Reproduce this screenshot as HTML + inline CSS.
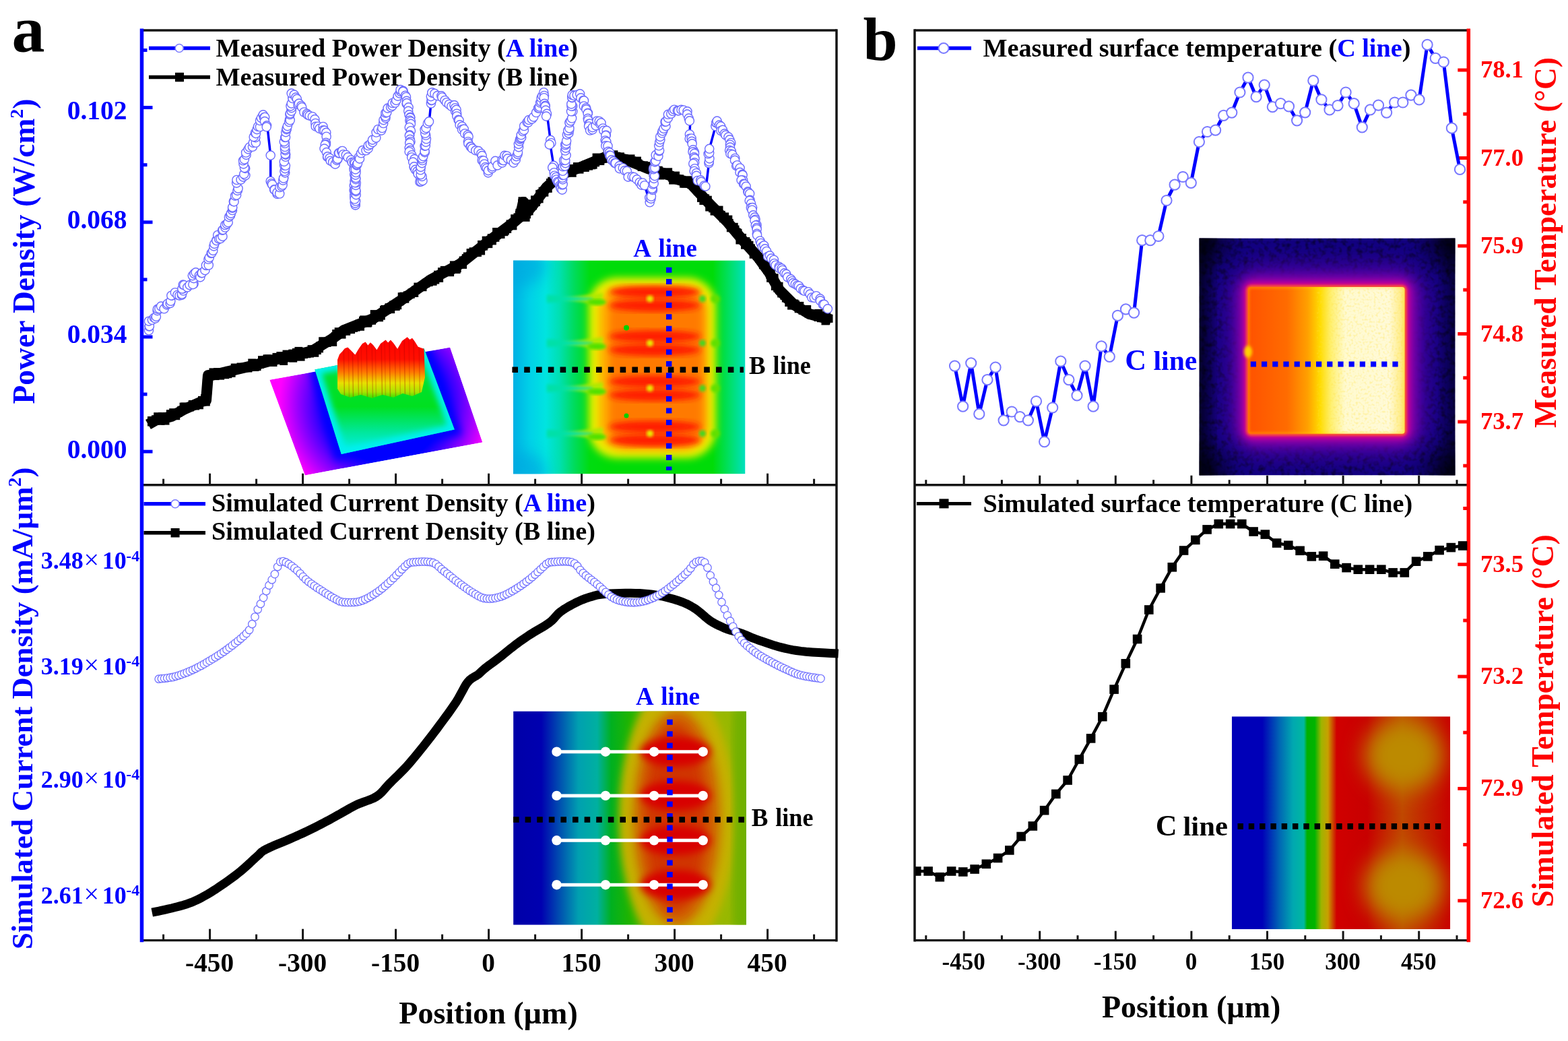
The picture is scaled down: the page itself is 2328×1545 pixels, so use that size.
<!DOCTYPE html>
<html><head><meta charset="utf-8"><title>Figure</title>
<style>html,body{margin:0;padding:0;background:#fff;}svg{display:block;}text{font-family:"Liberation Serif", "Times New Roman", serif;font-weight:bold;}</style>
</head><body>
<svg width="2328" height="1545" viewBox="0 0 2328 1545">
<defs>
<filter id="b2" x="-20%" y="-20%" width="140%" height="140%"><feGaussianBlur stdDeviation="2"/></filter>
<filter id="b4" x="-20%" y="-20%" width="140%" height="140%"><feGaussianBlur stdDeviation="4"/></filter>
<filter id="b6" x="-30%" y="-30%" width="160%" height="160%"><feGaussianBlur stdDeviation="6"/></filter>
<filter id="b8" x="-30%" y="-30%" width="160%" height="160%"><feGaussianBlur stdDeviation="8"/></filter>
<filter id="b10" x="-30%" y="-30%" width="160%" height="160%"><feGaussianBlur stdDeviation="10"/></filter>
<filter id="b16" x="-40%" y="-40%" width="180%" height="180%"><feGaussianBlur stdDeviation="16"/></filter>
<filter id="b25" x="-50%" y="-50%" width="200%" height="200%"><feGaussianBlur stdDeviation="25"/></filter>
<filter id="noise" x="0" y="0" width="100%" height="100%"><feTurbulence type="fractalNoise" baseFrequency="0.13" numOctaves="2" seed="3" result="t"/><feColorMatrix in="t" type="matrix" values="0 0 0 0 0  0 0 0 0 0  0 0 0 0 0  0 0 0 -2.2 1.25" result="a"/><feComposite in="SourceGraphic" in2="a" operator="in"/></filter>
<filter id="noise2" x="0" y="0" width="100%" height="100%"><feTurbulence type="fractalNoise" baseFrequency="0.3" numOctaves="1" seed="11" result="t"/><feColorMatrix in="t" type="matrix" values="0 0 0 0 0  0 0 0 0 0  0 0 0 0 0  0 0 0 -2.5 1.3" result="a"/><feComposite in="SourceGraphic" in2="a" operator="in"/></filter>
<clipPath id="c1"><rect x="762" y="386.4" width="344.5" height="317"/></clipPath>
<clipPath id="c3"><rect x="762.1" y="1055.5" width="345.9" height="317.2"/></clipPath>
<clipPath id="c4"><rect x="1780.5" y="353.5" width="380" height="352"/></clipPath>
<clipPath id="c5"><rect x="1828.8" y="1063.3" width="324.4" height="315.7"/></clipPath>
<clipPath id="c2"><polygon points="400.2,563.8 668.2,515.6 716.4,656.5 452.8,705.4"/></clipPath>
<clipPath id="c2b"><polygon points="467.4,548.4 629.5,517 674.8,637.5 506.8,674"/></clipPath>
<linearGradient id="g1" x1="0" x2="1" y1="0" y2="0">
 <stop offset="0" stop-color="#00b0e4"/><stop offset="0.07" stop-color="#00d0e8"/><stop offset="0.14" stop-color="#00e4e0"/>
 <stop offset="0.2" stop-color="#00e0b0"/><stop offset="0.26" stop-color="#00dc60"/><stop offset="0.33" stop-color="#00dc10"/><stop offset="0.4" stop-color="#00dc08"/><stop offset="0.86" stop-color="#00dc08"/>
 <stop offset="0.94" stop-color="#00e070"/><stop offset="1" stop-color="#00e0c0"/>
</linearGradient>
<linearGradient id="g3" x1="0" x2="1" y1="0" y2="0">
 <stop offset="0" stop-color="#0000a8"/><stop offset="0.12" stop-color="#0000b0"/><stop offset="0.2" stop-color="#0050b0"/>
 <stop offset="0.28" stop-color="#00a0b0"/><stop offset="0.36" stop-color="#00b0a0"/><stop offset="0.42" stop-color="#00b020"/>
 <stop offset="0.5" stop-color="#20b400"/><stop offset="0.62" stop-color="#70b400"/><stop offset="0.8" stop-color="#98b800"/><stop offset="0.92" stop-color="#98b800"/><stop offset="1" stop-color="#70b000"/>
</linearGradient>
<linearGradient id="g5" x1="0" x2="1" y1="0" y2="0">
 <stop offset="0" stop-color="#0000b8"/><stop offset="0.14" stop-color="#0000b8"/><stop offset="0.22" stop-color="#0068b4"/>
 <stop offset="0.28" stop-color="#00a8b0"/><stop offset="0.33" stop-color="#00b8a0"/><stop offset="0.345" stop-color="#00b000"/>
 <stop offset="0.38" stop-color="#00b400"/><stop offset="0.41" stop-color="#a0b400"/><stop offset="0.44" stop-color="#c8a000"/>
 <stop offset="0.48" stop-color="#d00000"/><stop offset="0.62" stop-color="#c80000"/><stop offset="0.78" stop-color="#c04800"/>
 <stop offset="0.9" stop-color="#c42000"/><stop offset="1" stop-color="#c80000"/>
</linearGradient>
<linearGradient id="g4" x1="0" x2="1" y1="0" y2="0">
 <stop offset="0" stop-color="#ff5200"/><stop offset="0.25" stop-color="#ff6c00"/><stop offset="0.38" stop-color="#ffa000"/>
 <stop offset="0.46" stop-color="#ffdc00"/><stop offset="0.53" stop-color="#fff070"/><stop offset="0.62" stop-color="#fffad0"/>
 <stop offset="0.9" stop-color="#fffad8"/><stop offset="1" stop-color="#ffe870"/>
</linearGradient>
<linearGradient id="g2peak" gradientUnits="userSpaceOnUse" x1="0" x2="0" y1="500" y2="595">
 <stop offset="0" stop-color="#ff0000"/><stop offset="0.35" stop-color="#ff1000"/><stop offset="0.55" stop-color="#ff7800"/>
 <stop offset="0.72" stop-color="#e8e000"/><stop offset="0.86" stop-color="#a8e400"/><stop offset="1" stop-color="#00e000"/>
</linearGradient>
<radialGradient id="g2base" gradientUnits="userSpaceOnUse" cx="572" cy="600" r="158">
 <stop offset="0.55" stop-color="#0000ff"/><stop offset="0.68" stop-color="#4800ff"/><stop offset="0.82" stop-color="#9800ff"/>
 <stop offset="0.94" stop-color="#e000ff"/><stop offset="1" stop-color="#ff00ff"/>
</radialGradient>
<linearGradient id="g2plat" x1="0" x2="0" y1="0" y2="1">
 <stop offset="0" stop-color="#00e040"/><stop offset="0.55" stop-color="#00e020"/><stop offset="0.8" stop-color="#00e8a0"/><stop offset="1" stop-color="#00f0f0"/>
</linearGradient>
</defs>
<rect width="2328" height="1545" fill="#fff"/>
<line x1="210.5" y1="45.0" x2="1242.0" y2="45.0" stroke="#141414" stroke-width="3.5" stroke-linecap="butt"/>
<line x1="1242.0" y1="43.3" x2="1242.0" y2="1397.4" stroke="#141414" stroke-width="3.5" stroke-linecap="butt"/>
<line x1="210.5" y1="719.7" x2="1242.0" y2="719.7" stroke="#141414" stroke-width="3.5" stroke-linecap="butt"/>
<line x1="210.5" y1="1395.7" x2="1242.0" y2="1395.7" stroke="#141414" stroke-width="3.2" stroke-linecap="butt"/>
<line x1="210.5" y1="42.5" x2="210.5" y2="1398.2" stroke="#0000ff" stroke-width="5.5" stroke-linecap="butt"/>
<line x1="1358.0" y1="45.0" x2="2180.3" y2="45.0" stroke="#141414" stroke-width="3.5" stroke-linecap="butt"/>
<line x1="1358.0" y1="43.3" x2="1358.0" y2="1397.4" stroke="#141414" stroke-width="3.5" stroke-linecap="butt"/>
<line x1="1358.0" y1="719.7" x2="2180.3" y2="719.7" stroke="#141414" stroke-width="3.5" stroke-linecap="butt"/>
<line x1="1358.0" y1="1395.7" x2="2180.3" y2="1395.7" stroke="#141414" stroke-width="3.2" stroke-linecap="butt"/>
<line x1="2180.3" y1="42.5" x2="2180.3" y2="1398.2" stroke="#ff0000" stroke-width="5.5" stroke-linecap="butt"/>
<line x1="242.6" y1="719.7" x2="242.6" y2="710.7" stroke="#141414" stroke-width="3" stroke-linecap="butt"/>
<line x1="311.6" y1="719.7" x2="311.6" y2="702.7" stroke="#141414" stroke-width="3" stroke-linecap="butt"/>
<line x1="380.6" y1="719.7" x2="380.6" y2="710.7" stroke="#141414" stroke-width="3" stroke-linecap="butt"/>
<line x1="449.6" y1="719.7" x2="449.6" y2="702.7" stroke="#141414" stroke-width="3" stroke-linecap="butt"/>
<line x1="518.6" y1="719.7" x2="518.6" y2="710.7" stroke="#141414" stroke-width="3" stroke-linecap="butt"/>
<line x1="587.6" y1="719.7" x2="587.6" y2="702.7" stroke="#141414" stroke-width="3" stroke-linecap="butt"/>
<line x1="656.6" y1="719.7" x2="656.6" y2="710.7" stroke="#141414" stroke-width="3" stroke-linecap="butt"/>
<line x1="725.6" y1="719.7" x2="725.6" y2="702.7" stroke="#141414" stroke-width="3" stroke-linecap="butt"/>
<line x1="794.6" y1="719.7" x2="794.6" y2="710.7" stroke="#141414" stroke-width="3" stroke-linecap="butt"/>
<line x1="863.6" y1="719.7" x2="863.6" y2="702.7" stroke="#141414" stroke-width="3" stroke-linecap="butt"/>
<line x1="932.6" y1="719.7" x2="932.6" y2="710.7" stroke="#141414" stroke-width="3" stroke-linecap="butt"/>
<line x1="1001.6" y1="719.7" x2="1001.6" y2="702.7" stroke="#141414" stroke-width="3" stroke-linecap="butt"/>
<line x1="1070.6" y1="719.7" x2="1070.6" y2="710.7" stroke="#141414" stroke-width="3" stroke-linecap="butt"/>
<line x1="1139.6" y1="719.7" x2="1139.6" y2="702.7" stroke="#141414" stroke-width="3" stroke-linecap="butt"/>
<line x1="1208.6" y1="719.7" x2="1208.6" y2="710.7" stroke="#141414" stroke-width="3" stroke-linecap="butt"/>
<line x1="242.6" y1="1395.7" x2="242.6" y2="1386.7" stroke="#141414" stroke-width="3" stroke-linecap="butt"/>
<line x1="311.6" y1="1395.7" x2="311.6" y2="1378.7" stroke="#141414" stroke-width="3" stroke-linecap="butt"/>
<line x1="380.6" y1="1395.7" x2="380.6" y2="1386.7" stroke="#141414" stroke-width="3" stroke-linecap="butt"/>
<line x1="449.6" y1="1395.7" x2="449.6" y2="1378.7" stroke="#141414" stroke-width="3" stroke-linecap="butt"/>
<line x1="518.6" y1="1395.7" x2="518.6" y2="1386.7" stroke="#141414" stroke-width="3" stroke-linecap="butt"/>
<line x1="587.6" y1="1395.7" x2="587.6" y2="1378.7" stroke="#141414" stroke-width="3" stroke-linecap="butt"/>
<line x1="656.6" y1="1395.7" x2="656.6" y2="1386.7" stroke="#141414" stroke-width="3" stroke-linecap="butt"/>
<line x1="725.6" y1="1395.7" x2="725.6" y2="1378.7" stroke="#141414" stroke-width="3" stroke-linecap="butt"/>
<line x1="794.6" y1="1395.7" x2="794.6" y2="1386.7" stroke="#141414" stroke-width="3" stroke-linecap="butt"/>
<line x1="863.6" y1="1395.7" x2="863.6" y2="1378.7" stroke="#141414" stroke-width="3" stroke-linecap="butt"/>
<line x1="932.6" y1="1395.7" x2="932.6" y2="1386.7" stroke="#141414" stroke-width="3" stroke-linecap="butt"/>
<line x1="1001.6" y1="1395.7" x2="1001.6" y2="1378.7" stroke="#141414" stroke-width="3" stroke-linecap="butt"/>
<line x1="1070.6" y1="1395.7" x2="1070.6" y2="1386.7" stroke="#141414" stroke-width="3" stroke-linecap="butt"/>
<line x1="1139.6" y1="1395.7" x2="1139.6" y2="1378.7" stroke="#141414" stroke-width="3" stroke-linecap="butt"/>
<line x1="1208.6" y1="1395.7" x2="1208.6" y2="1386.7" stroke="#141414" stroke-width="3" stroke-linecap="butt"/>
<line x1="1374.8" y1="719.7" x2="1374.8" y2="712.2" stroke="#141414" stroke-width="3" stroke-linecap="butt"/>
<line x1="1431.1" y1="719.7" x2="1431.1" y2="705.7" stroke="#141414" stroke-width="3" stroke-linecap="butt"/>
<line x1="1487.4" y1="719.7" x2="1487.4" y2="712.2" stroke="#141414" stroke-width="3" stroke-linecap="butt"/>
<line x1="1543.7" y1="719.7" x2="1543.7" y2="705.7" stroke="#141414" stroke-width="3" stroke-linecap="butt"/>
<line x1="1600.0" y1="719.7" x2="1600.0" y2="712.2" stroke="#141414" stroke-width="3" stroke-linecap="butt"/>
<line x1="1656.3" y1="719.7" x2="1656.3" y2="705.7" stroke="#141414" stroke-width="3" stroke-linecap="butt"/>
<line x1="1712.6" y1="719.7" x2="1712.6" y2="712.2" stroke="#141414" stroke-width="3" stroke-linecap="butt"/>
<line x1="1768.9" y1="719.7" x2="1768.9" y2="705.7" stroke="#141414" stroke-width="3" stroke-linecap="butt"/>
<line x1="1825.2" y1="719.7" x2="1825.2" y2="712.2" stroke="#141414" stroke-width="3" stroke-linecap="butt"/>
<line x1="1881.5" y1="719.7" x2="1881.5" y2="705.7" stroke="#141414" stroke-width="3" stroke-linecap="butt"/>
<line x1="1937.8" y1="719.7" x2="1937.8" y2="712.2" stroke="#141414" stroke-width="3" stroke-linecap="butt"/>
<line x1="1994.1" y1="719.7" x2="1994.1" y2="705.7" stroke="#141414" stroke-width="3" stroke-linecap="butt"/>
<line x1="2050.4" y1="719.7" x2="2050.4" y2="712.2" stroke="#141414" stroke-width="3" stroke-linecap="butt"/>
<line x1="2106.7" y1="719.7" x2="2106.7" y2="705.7" stroke="#141414" stroke-width="3" stroke-linecap="butt"/>
<line x1="2163.0" y1="719.7" x2="2163.0" y2="712.2" stroke="#141414" stroke-width="3" stroke-linecap="butt"/>
<line x1="1374.8" y1="1395.7" x2="1374.8" y2="1388.2" stroke="#141414" stroke-width="3" stroke-linecap="butt"/>
<line x1="1431.1" y1="1395.7" x2="1431.1" y2="1381.7" stroke="#141414" stroke-width="3" stroke-linecap="butt"/>
<line x1="1487.4" y1="1395.7" x2="1487.4" y2="1388.2" stroke="#141414" stroke-width="3" stroke-linecap="butt"/>
<line x1="1543.7" y1="1395.7" x2="1543.7" y2="1381.7" stroke="#141414" stroke-width="3" stroke-linecap="butt"/>
<line x1="1600.0" y1="1395.7" x2="1600.0" y2="1388.2" stroke="#141414" stroke-width="3" stroke-linecap="butt"/>
<line x1="1656.3" y1="1395.7" x2="1656.3" y2="1381.7" stroke="#141414" stroke-width="3" stroke-linecap="butt"/>
<line x1="1712.6" y1="1395.7" x2="1712.6" y2="1388.2" stroke="#141414" stroke-width="3" stroke-linecap="butt"/>
<line x1="1768.9" y1="1395.7" x2="1768.9" y2="1381.7" stroke="#141414" stroke-width="3" stroke-linecap="butt"/>
<line x1="1825.2" y1="1395.7" x2="1825.2" y2="1388.2" stroke="#141414" stroke-width="3" stroke-linecap="butt"/>
<line x1="1881.5" y1="1395.7" x2="1881.5" y2="1381.7" stroke="#141414" stroke-width="3" stroke-linecap="butt"/>
<line x1="1937.8" y1="1395.7" x2="1937.8" y2="1388.2" stroke="#141414" stroke-width="3" stroke-linecap="butt"/>
<line x1="1994.1" y1="1395.7" x2="1994.1" y2="1381.7" stroke="#141414" stroke-width="3" stroke-linecap="butt"/>
<line x1="2050.4" y1="1395.7" x2="2050.4" y2="1388.2" stroke="#141414" stroke-width="3" stroke-linecap="butt"/>
<line x1="2106.7" y1="1395.7" x2="2106.7" y2="1381.7" stroke="#141414" stroke-width="3" stroke-linecap="butt"/>
<line x1="2163.0" y1="1395.7" x2="2163.0" y2="1388.2" stroke="#141414" stroke-width="3" stroke-linecap="butt"/>
<text x="311.1" y="1442.0" font-size="39.3" fill="#000" text-anchor="middle" >-450</text>
<text x="1430.6" y="1438.5" font-size="35" fill="#000" text-anchor="middle" >-450</text>
<text x="449.1" y="1442.0" font-size="39.3" fill="#000" text-anchor="middle" >-300</text>
<text x="1543.2" y="1438.5" font-size="35" fill="#000" text-anchor="middle" >-300</text>
<text x="587.1" y="1442.0" font-size="39.3" fill="#000" text-anchor="middle" >-150</text>
<text x="1655.8" y="1438.5" font-size="35" fill="#000" text-anchor="middle" >-150</text>
<text x="725.1" y="1442.0" font-size="39.3" fill="#000" text-anchor="middle" >0</text>
<text x="1768.4" y="1438.5" font-size="35" fill="#000" text-anchor="middle" >0</text>
<text x="863.1" y="1442.0" font-size="39.3" fill="#000" text-anchor="middle" >150</text>
<text x="1881.0" y="1438.5" font-size="35" fill="#000" text-anchor="middle" >150</text>
<text x="1001.1" y="1442.0" font-size="39.3" fill="#000" text-anchor="middle" >300</text>
<text x="1993.6" y="1438.5" font-size="35" fill="#000" text-anchor="middle" >300</text>
<text x="1139.1" y="1442.0" font-size="39.3" fill="#000" text-anchor="middle" >450</text>
<text x="2106.2" y="1438.5" font-size="35" fill="#000" text-anchor="middle" >450</text>
<line x1="210.5" y1="159.6" x2="226.5" y2="159.6" stroke="#0000ff" stroke-width="5" stroke-linecap="butt"/>
<text x="188.5" y="177.3" font-size="39.5" fill="#0000ff" text-anchor="end" >0.102</text>
<line x1="210.5" y1="329.8" x2="226.5" y2="329.8" stroke="#0000ff" stroke-width="5" stroke-linecap="butt"/>
<text x="188.5" y="338.5" font-size="39.5" fill="#0000ff" text-anchor="end" >0.068</text>
<line x1="210.5" y1="500.0" x2="226.5" y2="500.0" stroke="#0000ff" stroke-width="5" stroke-linecap="butt"/>
<text x="188.5" y="509.2" font-size="39.5" fill="#0000ff" text-anchor="end" >0.034</text>
<line x1="210.5" y1="670.2" x2="226.5" y2="670.2" stroke="#0000ff" stroke-width="5" stroke-linecap="butt"/>
<text x="188.5" y="680.1" font-size="39.5" fill="#0000ff" text-anchor="end" >0.000</text>
<line x1="210.5" y1="74.5" x2="218.5" y2="74.5" stroke="#0000ff" stroke-width="5" stroke-linecap="butt"/>
<line x1="210.5" y1="244.7" x2="218.5" y2="244.7" stroke="#0000ff" stroke-width="5" stroke-linecap="butt"/>
<line x1="210.5" y1="414.9" x2="218.5" y2="414.9" stroke="#0000ff" stroke-width="5" stroke-linecap="butt"/>
<line x1="210.5" y1="585.1" x2="218.5" y2="585.1" stroke="#0000ff" stroke-width="5" stroke-linecap="butt"/>
<text x="60.8" y="844.2" font-size="36" fill="#0000ff" text-anchor="start" >3.48</text>
<text x="124.5" y="843.7" font-size="40" fill="#0000ff" style="font-weight:normal">×</text>
<text x="151.8" y="844.2" font-size="36" fill="#0000ff" text-anchor="start" >10</text>
<text x="187.2" y="832.7" font-size="24" fill="#0000ff" text-anchor="start" >-4</text>
<text x="60.8" y="1000.8" font-size="36" fill="#0000ff" text-anchor="start" >3.19</text>
<text x="124.5" y="1000.3" font-size="40" fill="#0000ff" style="font-weight:normal">×</text>
<text x="151.8" y="1000.8" font-size="36" fill="#0000ff" text-anchor="start" >10</text>
<text x="187.2" y="989.3" font-size="24" fill="#0000ff" text-anchor="start" >-4</text>
<text x="60.8" y="1168.6" font-size="36" fill="#0000ff" text-anchor="start" >2.90</text>
<text x="124.5" y="1168.1" font-size="40" fill="#0000ff" style="font-weight:normal">×</text>
<text x="151.8" y="1168.6" font-size="36" fill="#0000ff" text-anchor="start" >10</text>
<text x="187.2" y="1157.1" font-size="24" fill="#0000ff" text-anchor="start" >-4</text>
<text x="60.8" y="1340.6" font-size="36" fill="#0000ff" text-anchor="start" >2.61</text>
<text x="124.5" y="1340.1" font-size="40" fill="#0000ff" style="font-weight:normal">×</text>
<text x="151.8" y="1340.6" font-size="36" fill="#0000ff" text-anchor="start" >10</text>
<text x="187.2" y="1329.1" font-size="24" fill="#0000ff" text-anchor="start" >-4</text>
<line x1="2180.3" y1="104.0" x2="2164.3" y2="104.0" stroke="#ff0000" stroke-width="5" stroke-linecap="butt"/>
<text x="2198.0" y="115.2" font-size="36.5" fill="#ff0000" text-anchor="start" >78.1</text>
<line x1="2180.3" y1="234.5" x2="2164.3" y2="234.5" stroke="#ff0000" stroke-width="5" stroke-linecap="butt"/>
<text x="2198.0" y="245.7" font-size="36.5" fill="#ff0000" text-anchor="start" >77.0</text>
<line x1="2180.3" y1="365.0" x2="2164.3" y2="365.0" stroke="#ff0000" stroke-width="5" stroke-linecap="butt"/>
<text x="2198.0" y="376.2" font-size="36.5" fill="#ff0000" text-anchor="start" >75.9</text>
<line x1="2180.3" y1="495.5" x2="2164.3" y2="495.5" stroke="#ff0000" stroke-width="5" stroke-linecap="butt"/>
<text x="2198.0" y="506.7" font-size="36.5" fill="#ff0000" text-anchor="start" >74.8</text>
<line x1="2180.3" y1="626.0" x2="2164.3" y2="626.0" stroke="#ff0000" stroke-width="5" stroke-linecap="butt"/>
<text x="2198.0" y="637.2" font-size="36.5" fill="#ff0000" text-anchor="start" >73.7</text>
<line x1="2180.3" y1="169.2" x2="2172.3" y2="169.2" stroke="#ff0000" stroke-width="5" stroke-linecap="butt"/>
<line x1="2180.3" y1="299.8" x2="2172.3" y2="299.8" stroke="#ff0000" stroke-width="5" stroke-linecap="butt"/>
<line x1="2180.3" y1="430.2" x2="2172.3" y2="430.2" stroke="#ff0000" stroke-width="5" stroke-linecap="butt"/>
<line x1="2180.3" y1="560.8" x2="2172.3" y2="560.8" stroke="#ff0000" stroke-width="5" stroke-linecap="butt"/>
<line x1="2180.3" y1="691.2" x2="2172.3" y2="691.2" stroke="#ff0000" stroke-width="5" stroke-linecap="butt"/>
<line x1="2180.3" y1="837.7" x2="2164.3" y2="837.7" stroke="#ff0000" stroke-width="5" stroke-linecap="butt"/>
<text x="2198.0" y="848.5" font-size="36.5" fill="#ff0000" text-anchor="start" >73.5</text>
<line x1="2180.3" y1="1004.1" x2="2164.3" y2="1004.1" stroke="#ff0000" stroke-width="5" stroke-linecap="butt"/>
<text x="2198.0" y="1014.9" font-size="36.5" fill="#ff0000" text-anchor="start" >73.2</text>
<line x1="2180.3" y1="1170.4" x2="2164.3" y2="1170.4" stroke="#ff0000" stroke-width="5" stroke-linecap="butt"/>
<text x="2198.0" y="1181.2" font-size="36.5" fill="#ff0000" text-anchor="start" >72.9</text>
<line x1="2180.3" y1="1336.8" x2="2164.3" y2="1336.8" stroke="#ff0000" stroke-width="5" stroke-linecap="butt"/>
<text x="2198.0" y="1347.6" font-size="36.5" fill="#ff0000" text-anchor="start" >72.6</text>
<line x1="2180.3" y1="754.5" x2="2172.3" y2="754.5" stroke="#ff0000" stroke-width="5" stroke-linecap="butt"/>
<line x1="2180.3" y1="920.9" x2="2172.3" y2="920.9" stroke="#ff0000" stroke-width="5" stroke-linecap="butt"/>
<line x1="2180.3" y1="1087.2" x2="2172.3" y2="1087.2" stroke="#ff0000" stroke-width="5" stroke-linecap="butt"/>
<line x1="2180.3" y1="1253.6" x2="2172.3" y2="1253.6" stroke="#ff0000" stroke-width="5" stroke-linecap="butt"/>
<text x="17.5" y="76.3" font-size="98" fill="#000" text-anchor="start" >a</text>
<text x="1281.5" y="88.7" font-size="92" fill="#000" text-anchor="start" >b</text>
<text x="725.0" y="1519.0" font-size="46" fill="#000" text-anchor="middle" >Position (µm)</text>
<text x="1768.7" y="1510.0" font-size="46" fill="#000" text-anchor="middle" >Position (µm)</text>
<text transform="translate(51,373) rotate(-90)" font-size="45.5" fill="#0000ff" text-anchor="middle">Power Density (W/cm<tspan font-size="28" dy="-17">2</tspan><tspan dy="17">)</tspan></text>
<text transform="translate(48,1051.4) rotate(-90)" font-size="44.7" fill="#0000ff" text-anchor="middle">Simulated Current Density (mA/µm<tspan font-size="28" dy="-17">2</tspan><tspan dy="17">)</tspan></text>
<text transform="translate(2310,360) rotate(-90)" font-size="45.5" fill="#ff0000" text-anchor="middle">Measured Temperature (°C)</text>
<text transform="translate(2306,1070) rotate(-90)" font-size="45.5" fill="#ff0000" text-anchor="middle">Simulated Temperature (°C)</text>
<line x1="221.0" y1="71.5" x2="312.0" y2="71.5" stroke="#0000ff" stroke-width="5.5" stroke-linecap="butt"/>
<circle cx="266.2" cy="71.5" r="6" fill="#fff" stroke="#7b7bff" stroke-width="1.6"/>
<text x="320.5" y="84.4" font-size="38.2" fill="#000" text-anchor="start" >Measured Power Density (<tspan fill="#0000ff">A line</tspan>)</text>
<line x1="221.0" y1="114.4" x2="312.0" y2="114.4" stroke="#000" stroke-width="5.5" stroke-linecap="butt"/>
<rect x="260" y="107.8" width="13" height="13.5" fill="#000"/>
<text x="320.5" y="126.9" font-size="38.2" fill="#000" text-anchor="start" >Measured Power Density (B line)</text>
<line x1="213.5" y1="747.7" x2="305.0" y2="747.7" stroke="#0000ff" stroke-width="5.5" stroke-linecap="butt"/>
<circle cx="260.1" cy="747.7" r="6" fill="#fff" stroke="#7b7bff" stroke-width="1.6"/>
<text x="314.0" y="759.3" font-size="38.2" fill="#000" text-anchor="start" >Simulated Current Density (<tspan fill="#0000ff">A line</tspan>)</text>
<line x1="213.5" y1="790.7" x2="305.0" y2="790.7" stroke="#000" stroke-width="5.5" stroke-linecap="butt"/>
<rect x="253.6" y="784" width="13" height="13.5" fill="#000"/>
<text x="314.0" y="801.4" font-size="38.2" fill="#000" text-anchor="start" >Simulated Current Density (B line)</text>
<line x1="1362.0" y1="71.5" x2="1442.0" y2="71.5" stroke="#0000ff" stroke-width="5.5" stroke-linecap="butt"/>
<circle cx="1401" cy="71.5" r="7.5" fill="#fff" stroke="#7b7bff" stroke-width="2"/>
<text x="1459.5" y="84.4" font-size="38.2" fill="#000" text-anchor="start" >Measured surface temperature (<tspan fill="#0000ff">C line</tspan>)</text>
<line x1="1361.0" y1="747.4" x2="1442.0" y2="747.4" stroke="#000" stroke-width="5" stroke-linecap="butt"/>
<rect x="1394.5" y="740.4" width="14" height="14" fill="#000"/>
<text x="1459.5" y="760.3" font-size="38.2" fill="#000" text-anchor="start" >Simulated surface temperature (C line)</text>
<g clip-path="url(#c1)"><rect x="762" y="386.4" width="344.5" height="317" fill="url(#g1)"/><ellipse cx="770" cy="395" rx="40" ry="30" fill="#00a8e0" filter="url(#b10)" opacity="0.7"/><ellipse cx="770" cy="700" rx="40" ry="30" fill="#00a8e0" filter="url(#b10)" opacity="0.7"/><rect x="874" y="412" width="189" height="268" rx="42" fill="#e8f000" filter="url(#b6)"/><rect x="889" y="423" width="162" height="246" rx="36" fill="#ffb000" filter="url(#b6)"/><rect x="904" y="432" width="140" height="230" rx="30" fill="#ff7a00" filter="url(#b6)"/><ellipse cx="972" cy="433.4" rx="68" ry="9" fill="#ff1a00" filter="url(#b4)"/><ellipse cx="972" cy="453.4" rx="68" ry="9" fill="#ff1a00" filter="url(#b4)"/><ellipse cx="972" cy="499.3" rx="68" ry="9" fill="#ff1a00" filter="url(#b4)"/><ellipse cx="972" cy="519.3" rx="68" ry="9" fill="#ff1a00" filter="url(#b4)"/><ellipse cx="972" cy="566.3" rx="68" ry="9" fill="#ff1a00" filter="url(#b4)"/><ellipse cx="972" cy="586.3" rx="68" ry="9" fill="#ff1a00" filter="url(#b4)"/><ellipse cx="972" cy="633.4" rx="68" ry="9" fill="#ff1a00" filter="url(#b4)"/><ellipse cx="972" cy="653.4" rx="68" ry="9" fill="#ff1a00" filter="url(#b4)"/><line x1="872" y1="443.4" x2="1046" y2="443.4" stroke="#e8f000" stroke-width="5" filter="url(#b2)"/><polygon points="833,443.4 895,434.4 895,452.4" fill="#b0e800" filter="url(#b2)"/><polygon points="812,437.4 880,442.4 880,444.4 812,449.4" fill="#00e0a8" filter="url(#b2)"/><circle cx="1043" cy="443.4" r="5" fill="#40d820" filter="url(#b2)"/><ellipse cx="886" cy="448.4" rx="14" ry="4.5" fill="#50e000" filter="url(#b2)"/><ellipse cx="1062" cy="443.4" rx="7" ry="6" fill="#60e000" filter="url(#b2)"/><circle cx="965" cy="443.4" r="5" fill="#e8f000" filter="url(#b2)"/><line x1="872" y1="509.3" x2="1046" y2="509.3" stroke="#e8f000" stroke-width="5" filter="url(#b2)"/><polygon points="833,509.3 895,500.3 895,518.3" fill="#b0e800" filter="url(#b2)"/><polygon points="812,503.3 880,508.3 880,510.3 812,515.3" fill="#00e0a8" filter="url(#b2)"/><circle cx="1043" cy="509.3" r="5" fill="#40d820" filter="url(#b2)"/><ellipse cx="886" cy="514.3" rx="14" ry="4.5" fill="#50e000" filter="url(#b2)"/><ellipse cx="1062" cy="509.3" rx="7" ry="6" fill="#60e000" filter="url(#b2)"/><circle cx="965" cy="509.3" r="5" fill="#e8f000" filter="url(#b2)"/><line x1="872" y1="576.3" x2="1046" y2="576.3" stroke="#e8f000" stroke-width="5" filter="url(#b2)"/><polygon points="833,576.3 895,567.3 895,585.3" fill="#b0e800" filter="url(#b2)"/><polygon points="812,570.3 880,575.3 880,577.3 812,582.3" fill="#00e0a8" filter="url(#b2)"/><circle cx="1043" cy="576.3" r="5" fill="#40d820" filter="url(#b2)"/><ellipse cx="886" cy="581.3" rx="14" ry="4.5" fill="#50e000" filter="url(#b2)"/><ellipse cx="1062" cy="576.3" rx="7" ry="6" fill="#60e000" filter="url(#b2)"/><circle cx="965" cy="576.3" r="5" fill="#e8f000" filter="url(#b2)"/><line x1="872" y1="643.4" x2="1046" y2="643.4" stroke="#e8f000" stroke-width="5" filter="url(#b2)"/><polygon points="833,643.4 895,634.4 895,652.4" fill="#b0e800" filter="url(#b2)"/><polygon points="812,637.4 880,642.4 880,644.4 812,649.4" fill="#00e0a8" filter="url(#b2)"/><circle cx="1043" cy="643.4" r="5" fill="#40d820" filter="url(#b2)"/><ellipse cx="886" cy="648.4" rx="14" ry="4.5" fill="#50e000" filter="url(#b2)"/><ellipse cx="1062" cy="643.4" rx="7" ry="6" fill="#60e000" filter="url(#b2)"/><circle cx="965" cy="643.4" r="5" fill="#e8f000" filter="url(#b2)"/><circle cx="930" cy="486.5" r="4" fill="#00d000"/><circle cx="930" cy="617" r="3.5" fill="#00d000"/></g><line x1="993.2" y1="396.7" x2="993.2" y2="698" stroke="#0000ff" stroke-width="8.4" stroke-dasharray="8 9.399999999999999"/><line x1="760.4" y1="548.8" x2="1104" y2="548.8" stroke="#000" stroke-width="8.6" stroke-dasharray="8.6 9.200000000000001"/>
<g clip-path="url(#c2)"><polygon points="400.2,563.8 668.2,515.6 716.4,656.5 452.8,705.4" fill="url(#g2base)"/><polygon points="458,543 636,510 686,645 498,684" fill="#0000ff" filter="url(#b6)"/></g><polygon points="467.4,548.4 629.5,517 674.8,637.5 506.8,674" fill="url(#g2plat)"/><g clip-path="url(#c2b)"><polygon points="467.4,548.4 629.5,517 674.8,637.5 506.8,674" fill="none" stroke="#00f0f0" stroke-width="16" filter="url(#b4)"/></g><clipPath id="cpk"><path d="M501,577 L501,534 L504,526 L508.3,521.4 L512,517 L516.3,515.6 L520,519 L527.3,526.5 L533,517 L538,510 L542.6,507.5 L546.3,512.4 L549.9,508.3 L554,512 L559.4,519.2 L565,510 L572.6,504.6 L576.2,508.5 L579.9,504.6 L584,509 L590.1,517.7 L597,506 L604.7,500.2 L608.3,504 L612,501.7 L616,507 L620.8,514.8 L629.5,517.7 L631,560 L626,582 L612,588 L598,584 L584,590 L568,586 L552,591 L536,586 L520,590 L506,585 Z"/></clipPath><path d="M501,577 L501,534 L504,526 L508.3,521.4 L512,517 L516.3,515.6 L520,519 L527.3,526.5 L533,517 L538,510 L542.6,507.5 L546.3,512.4 L549.9,508.3 L554,512 L559.4,519.2 L565,510 L572.6,504.6 L576.2,508.5 L579.9,504.6 L584,509 L590.1,517.7 L597,506 L604.7,500.2 L608.3,504 L612,501.7 L616,507 L620.8,514.8 L629.5,517.7 L631,560 L626,582 L612,588 L598,584 L584,590 L568,586 L552,591 L536,586 L520,590 L506,585 Z" fill="url(#g2peak)"/><g clip-path="url(#cpk)"><line x1="510" y1="500" x2="511.5" y2="590" stroke="#a00000" stroke-width="1.5" opacity="0.3"/><line x1="517" y1="500" x2="518.5" y2="590" stroke="#a00000" stroke-width="1.5" opacity="0.2"/><line x1="523" y1="500" x2="524.5" y2="590" stroke="#a00000" stroke-width="1.5" opacity="0.3"/><line x1="531" y1="500" x2="532.5" y2="590" stroke="#a00000" stroke-width="1.5" opacity="0.25"/><line x1="536" y1="500" x2="537.5" y2="590" stroke="#a00000" stroke-width="1.5" opacity="0.2"/><line x1="544" y1="500" x2="545.5" y2="590" stroke="#a00000" stroke-width="1.5" opacity="0.3"/><line x1="552" y1="500" x2="553.5" y2="590" stroke="#a00000" stroke-width="1.5" opacity="0.25"/><line x1="557" y1="500" x2="558.5" y2="590" stroke="#a00000" stroke-width="1.5" opacity="0.2"/><line x1="566" y1="500" x2="567.5" y2="590" stroke="#a00000" stroke-width="1.5" opacity="0.3"/><line x1="571" y1="500" x2="572.5" y2="590" stroke="#a00000" stroke-width="1.5" opacity="0.2"/><line x1="578" y1="500" x2="579.5" y2="590" stroke="#a00000" stroke-width="1.5" opacity="0.3"/><line x1="586" y1="500" x2="587.5" y2="590" stroke="#a00000" stroke-width="1.5" opacity="0.25"/><line x1="593" y1="500" x2="594.5" y2="590" stroke="#a00000" stroke-width="1.5" opacity="0.2"/><line x1="600" y1="500" x2="601.5" y2="590" stroke="#a00000" stroke-width="1.5" opacity="0.3"/><line x1="607" y1="500" x2="608.5" y2="590" stroke="#a00000" stroke-width="1.5" opacity="0.2"/><line x1="614" y1="500" x2="615.5" y2="590" stroke="#a00000" stroke-width="1.5" opacity="0.3"/><line x1="622" y1="500" x2="623.5" y2="590" stroke="#a00000" stroke-width="1.5" opacity="0.25"/></g>
<g clip-path="url(#c3)"><rect x="762.1" y="1055.5" width="345.9" height="317.2" fill="url(#g3)"/><ellipse cx="1005" cy="1214" rx="86" ry="200" fill="#c4b200" filter="url(#b6)"/><ellipse cx="1005" cy="1214" rx="64" ry="160" fill="#d06400" filter="url(#b8)"/><ellipse cx="1003" cy="1214" rx="46" ry="140" fill="#d03400" filter="url(#b8)"/><ellipse cx="1003" cy="1115.7" rx="52" ry="22" fill="#d80000" filter="url(#b6)"/><ellipse cx="1003" cy="1180.9" rx="52" ry="22" fill="#d80000" filter="url(#b6)"/><ellipse cx="1003" cy="1247.3" rx="52" ry="22" fill="#d80000" filter="url(#b6)"/><ellipse cx="1003" cy="1313.2" rx="52" ry="22" fill="#d80000" filter="url(#b6)"/><rect x="1090" y="1055" width="20" height="320" fill="#70b000" filter="url(#b6)" opacity="0.8"/></g><line x1="826.5" y1="1115.7" x2="1043.7" y2="1115.7" stroke="#fff" stroke-width="5"/><circle cx="826.5" cy="1115.7" r="7.2" fill="#fff"/><circle cx="899" cy="1115.7" r="7.2" fill="#fff"/><circle cx="971.1" cy="1115.7" r="7.2" fill="#fff"/><circle cx="1043.7" cy="1115.7" r="7.2" fill="#fff"/><line x1="826.5" y1="1180.9" x2="1043.7" y2="1180.9" stroke="#fff" stroke-width="5"/><circle cx="826.5" cy="1180.9" r="7.2" fill="#fff"/><circle cx="899" cy="1180.9" r="7.2" fill="#fff"/><circle cx="971.1" cy="1180.9" r="7.2" fill="#fff"/><circle cx="1043.7" cy="1180.9" r="7.2" fill="#fff"/><line x1="826.5" y1="1247.3" x2="1043.7" y2="1247.3" stroke="#fff" stroke-width="5"/><circle cx="826.5" cy="1247.3" r="7.2" fill="#fff"/><circle cx="899" cy="1247.3" r="7.2" fill="#fff"/><circle cx="971.1" cy="1247.3" r="7.2" fill="#fff"/><circle cx="1043.7" cy="1247.3" r="7.2" fill="#fff"/><line x1="826.5" y1="1313.2" x2="1043.7" y2="1313.2" stroke="#fff" stroke-width="5"/><circle cx="826.5" cy="1313.2" r="7.2" fill="#fff"/><circle cx="899" cy="1313.2" r="7.2" fill="#fff"/><circle cx="971.1" cy="1313.2" r="7.2" fill="#fff"/><circle cx="1043.7" cy="1313.2" r="7.2" fill="#fff"/><line x1="994.5" y1="1067.8" x2="994.5" y2="1368" stroke="#0000ff" stroke-width="8.4" stroke-dasharray="8 9.399999999999999"/><line x1="762" y1="1216.5" x2="1106" y2="1216.5" stroke="#000" stroke-width="8.6" stroke-dasharray="8.6 9.000000000000002"/>
<g clip-path="url(#c4)"><rect x="1780.5" y="353.5" width="380" height="352" fill="#120080"/><rect x="1762" y="340" width="34" height="380" fill="#000010" filter="url(#b10)" opacity="0.75"/><rect x="2146" y="340" width="34" height="380" fill="#000010" filter="url(#b10)" opacity="0.55"/><circle cx="1782" cy="356" r="38" fill="#000008" filter="url(#b16)" opacity="0.85"/><circle cx="2158" cy="356" r="38" fill="#000008" filter="url(#b16)" opacity="0.85"/><circle cx="1782" cy="703" r="38" fill="#000008" filter="url(#b16)" opacity="0.85"/><circle cx="2158" cy="703" r="38" fill="#000008" filter="url(#b16)" opacity="0.85"/><rect x="1780.5" y="353.5" width="380" height="352" fill="#000" filter="url(#noise)" opacity="0.6"/><rect x="1826" y="396" width="290" height="278" rx="45" fill="#5000a8" filter="url(#b16)"/><rect x="1840" y="412" width="260" height="246" rx="22" fill="#9800a8" filter="url(#b8)"/><rect x="1848" y="420" width="243" height="230" rx="10" fill="#e00090" filter="url(#b4)"/><rect x="1851" y="424" width="237" height="222" rx="6" fill="#ff3030" filter="url(#b2)"/><rect x="1853" y="426.1" width="232.6" height="217.7" rx="4" fill="url(#g4)"/><rect x="1853" y="426.1" width="232.6" height="217.7" rx="4" fill="none" stroke="#ffd800" stroke-width="3" opacity="0.5" filter="url(#b2)"/><ellipse cx="1853" cy="522" rx="6" ry="9" fill="#ffd000" filter="url(#b2)"/><rect x="1955" y="428" width="128" height="214" fill="#ffe040" filter="url(#noise2)" opacity="0.45"/></g><line x1="1856.8" y1="540.5" x2="2083" y2="540.5" stroke="#0000ff" stroke-width="8.2" stroke-dasharray="8.2 8.0"/>
<g clip-path="url(#c5)"><rect x="1828.8" y="1063.3" width="324.4" height="315.7" fill="url(#g5)"/><ellipse cx="2084" cy="1121" rx="58" ry="52" fill="#bc8a00" filter="url(#b16)"/><ellipse cx="2084" cy="1315" rx="58" ry="52" fill="#bc8a00" filter="url(#b16)"/></g><line x1="1837.5" y1="1226.4" x2="2143.8" y2="1226.4" stroke="#000" stroke-width="8.6" stroke-dasharray="8.4 7.9"/>
<text x="940.2" y="381.2" font-size="37" fill="#0000ff" text-anchor="start" >A</text>
<text x="977.6" y="381.2" font-size="37" fill="#0000ff" text-anchor="start" textLength="57.3" lengthAdjust="spacingAndGlyphs">line</text>
<text x="1112.1" y="554.8" font-size="37" fill="#000" text-anchor="start" >B</text>
<text x="1147.6" y="554.8" font-size="37" fill="#000" text-anchor="start" textLength="56.2" lengthAdjust="spacingAndGlyphs">line</text>
<text x="943.9" y="1045.7" font-size="37" fill="#0000ff" text-anchor="start" >A</text>
<text x="981.3" y="1045.7" font-size="37" fill="#0000ff" text-anchor="start" textLength="57.8" lengthAdjust="spacingAndGlyphs">line</text>
<text x="1115.8" y="1226.4" font-size="37" fill="#000" text-anchor="start" >B</text>
<text x="1151.3" y="1226.4" font-size="37" fill="#000" text-anchor="start" textLength="56.2" lengthAdjust="spacingAndGlyphs">line</text>
<text x="1670.3" y="549.0" font-size="44" fill="#0000ff" text-anchor="start" >C</text>
<text x="1712.5" y="549.0" font-size="40" fill="#0000ff" text-anchor="start" textLength="64.8" lengthAdjust="spacingAndGlyphs">line</text>
<text x="1715.8" y="1240.4" font-size="44" fill="#000" text-anchor="start" >C</text>
<text x="1756.5" y="1240.4" font-size="40" fill="#000" text-anchor="start" textLength="66.4" lengthAdjust="spacingAndGlyphs">line</text>
<polyline points="220.0,630.0 232.3,623.0 254.7,618.0 272.5,608.0 299.3,596.0 306.0,594.0 309.0,557.0 314.2,557.0 344.0,550.0 373.8,543.0 403.6,535.0 433.3,528.0 463.1,521.0 492.9,503.0 510.7,490.0 553.7,473.0 596.6,445.0 639.6,415.0 682.6,392.0 725.5,358.0 757.7,334.0 772.0,322.0 777.0,300.0 780.0,318.0 790.0,306.0 811.4,278.0 833.0,259.0 865.1,247.0 901.6,232.0 929.6,237.0 961.8,250.0 994.0,260.0 1003.0,265.4 1025.0,272.0 1053.6,302.9 1080.0,329.3 1102.0,355.7 1124.0,379.9 1141.7,404.1 1157.0,430.5 1179.0,452.5 1201.0,465.7 1234.0,474.5" fill="none" stroke="#000" stroke-width="16" stroke-linejoin="round"/>
<g fill="#000"><rect x="219.0" y="620.5" width="12" height="12"/><rect x="219.0" y="618.0" width="12" height="12"/><rect x="220.3" y="619.2" width="12" height="12"/><rect x="221.9" y="618.8" width="12" height="12"/><rect x="224.9" y="616.3" width="12" height="12"/><rect x="228.2" y="612.2" width="12" height="12"/><rect x="232.5" y="618.8" width="12" height="12"/><rect x="234.8" y="612.1" width="12" height="12"/><rect x="239.5" y="618.6" width="12" height="12"/><rect x="242.5" y="612.4" width="12" height="12"/><rect x="246.9" y="608.2" width="12" height="12"/><rect x="249.8" y="609.9" width="12" height="12"/><rect x="251.2" y="606.2" width="12" height="12"/><rect x="255.2" y="611.2" width="12" height="12"/><rect x="258.4" y="606.8" width="12" height="12"/><rect x="263.4" y="602.7" width="12" height="12"/><rect x="266.6" y="597.6" width="12" height="12"/><rect x="268.5" y="597.6" width="12" height="12"/><rect x="273.7" y="598.3" width="12" height="12"/><rect x="276.0" y="598.4" width="12" height="12"/><rect x="279.8" y="594.0" width="12" height="12"/><rect x="284.1" y="596.5" width="12" height="12"/><rect x="285.8" y="593.7" width="12" height="12"/><rect x="290.0" y="595.3" width="12" height="12"/><rect x="294.0" y="587.9" width="12" height="12"/><rect x="298.1" y="585.2" width="12" height="12"/><rect x="299.8" y="590.6" width="12" height="12"/><rect x="299.2" y="584.8" width="12" height="12"/><rect x="299.1" y="583.5" width="12" height="12"/><rect x="301.5" y="579.5" width="12" height="12"/><rect x="302.1" y="573.8" width="12" height="12"/><rect x="301.8" y="573.5" width="12" height="12"/><rect x="301.7" y="569.1" width="12" height="12"/><rect x="302.8" y="570.9" width="12" height="12"/><rect x="301.9" y="565.0" width="12" height="12"/><rect x="300.9" y="562.3" width="12" height="12"/><rect x="302.9" y="562.1" width="12" height="12"/><rect x="303.7" y="551.9" width="12" height="12"/><rect x="302.7" y="552.7" width="12" height="12"/><rect x="306.8" y="550.6" width="12" height="12"/><rect x="310.5" y="546.4" width="12" height="12"/><rect x="313.5" y="552.1" width="12" height="12"/><rect x="317.0" y="546.1" width="12" height="12"/><rect x="321.1" y="551.6" width="12" height="12"/><rect x="323.5" y="546.6" width="12" height="12"/><rect x="328.2" y="550.2" width="12" height="12"/><rect x="332.3" y="549.2" width="12" height="12"/><rect x="334.0" y="543.9" width="12" height="12"/><rect x="337.6" y="547.8" width="12" height="12"/><rect x="342.7" y="539.7" width="12" height="12"/><rect x="343.7" y="539.8" width="12" height="12"/><rect x="347.1" y="541.5" width="12" height="12"/><rect x="351.5" y="538.5" width="12" height="12"/><rect x="353.1" y="539.3" width="12" height="12"/><rect x="357.5" y="540.0" width="12" height="12"/><rect x="362.5" y="540.5" width="12" height="12"/><rect x="364.5" y="539.0" width="12" height="12"/><rect x="368.3" y="532.5" width="12" height="12"/><rect x="372.3" y="538.9" width="12" height="12"/><rect x="375.5" y="538.2" width="12" height="12"/><rect x="377.4" y="533.3" width="12" height="12"/><rect x="379.9" y="534.8" width="12" height="12"/><rect x="383.0" y="528.2" width="12" height="12"/><rect x="386.8" y="528.3" width="12" height="12"/><rect x="390.5" y="526.3" width="12" height="12"/><rect x="392.8" y="526.4" width="12" height="12"/><rect x="396.4" y="527.6" width="12" height="12"/><rect x="399.5" y="532.0" width="12" height="12"/><rect x="404.5" y="523.9" width="12" height="12"/><rect x="406.8" y="525.1" width="12" height="12"/><rect x="410.4" y="522.1" width="12" height="12"/><rect x="415.1" y="530.0" width="12" height="12"/><rect x="417.3" y="524.2" width="12" height="12"/><rect x="419.5" y="519.6" width="12" height="12"/><rect x="423.5" y="520.4" width="12" height="12"/><rect x="428.3" y="518.6" width="12" height="12"/><rect x="429.2" y="525.7" width="12" height="12"/><rect x="434.0" y="516.9" width="12" height="12"/><rect x="437.4" y="514.9" width="12" height="12"/><rect x="440.6" y="523.7" width="12" height="12"/><rect x="444.9" y="520.1" width="12" height="12"/><rect x="446.5" y="516.0" width="12" height="12"/><rect x="449.5" y="519.3" width="12" height="12"/><rect x="453.9" y="518.6" width="12" height="12"/><rect x="456.6" y="512.2" width="12" height="12"/><rect x="461.3" y="517.8" width="12" height="12"/><rect x="464.8" y="514.1" width="12" height="12"/><rect x="468.0" y="511.4" width="12" height="12"/><rect x="469.5" y="507.2" width="12" height="12"/><rect x="473.2" y="500.3" width="12" height="12"/><rect x="475.6" y="500.8" width="12" height="12"/><rect x="479.6" y="502.9" width="12" height="12"/><rect x="485.0" y="498.5" width="12" height="12"/><rect x="488.2" y="501.9" width="12" height="12"/><rect x="491.8" y="493.0" width="12" height="12"/><rect x="493.2" y="489.1" width="12" height="12"/><rect x="496.7" y="486.2" width="12" height="12"/><rect x="501.5" y="490.6" width="12" height="12"/><rect x="505.7" y="483.8" width="12" height="12"/><rect x="508.2" y="485.8" width="12" height="12"/><rect x="509.6" y="483.2" width="12" height="12"/><rect x="515.1" y="483.2" width="12" height="12"/><rect x="517.7" y="478.9" width="12" height="12"/><rect x="519.1" y="480.8" width="12" height="12"/><rect x="522.6" y="479.7" width="12" height="12"/><rect x="527.6" y="474.5" width="12" height="12"/><rect x="529.0" y="478.8" width="12" height="12"/><rect x="533.0" y="469.8" width="12" height="12"/><rect x="534.3" y="468.4" width="12" height="12"/><rect x="539.7" y="473.7" width="12" height="12"/><rect x="540.5" y="472.7" width="12" height="12"/><rect x="546.1" y="469.8" width="12" height="12"/><rect x="547.3" y="467.5" width="12" height="12"/><rect x="549.7" y="460.1" width="12" height="12"/><rect x="555.2" y="464.5" width="12" height="12"/><rect x="557.0" y="465.3" width="12" height="12"/><rect x="559.8" y="462.7" width="12" height="12"/><rect x="564.0" y="454.1" width="12" height="12"/><rect x="565.3" y="452.9" width="12" height="12"/><rect x="568.4" y="453.9" width="12" height="12"/><rect x="571.5" y="450.2" width="12" height="12"/><rect x="574.2" y="453.1" width="12" height="12"/><rect x="577.9" y="446.6" width="12" height="12"/><rect x="581.7" y="449.0" width="12" height="12"/><rect x="584.2" y="447.2" width="12" height="12"/><rect x="587.5" y="441.3" width="12" height="12"/><rect x="590.7" y="434.2" width="12" height="12"/><rect x="593.5" y="433.7" width="12" height="12"/><rect x="595.3" y="437.7" width="12" height="12"/><rect x="598.8" y="432.3" width="12" height="12"/><rect x="603.6" y="431.0" width="12" height="12"/><rect x="605.4" y="428.5" width="12" height="12"/><rect x="609.2" y="429.0" width="12" height="12"/><rect x="610.9" y="424.6" width="12" height="12"/><rect x="614.4" y="419.6" width="12" height="12"/><rect x="619.1" y="419.8" width="12" height="12"/><rect x="621.5" y="420.2" width="12" height="12"/><rect x="625.6" y="414.9" width="12" height="12"/><rect x="627.8" y="413.3" width="12" height="12"/><rect x="630.6" y="413.1" width="12" height="12"/><rect x="633.5" y="409.3" width="12" height="12"/><rect x="636.6" y="411.8" width="12" height="12"/><rect x="640.3" y="409.5" width="12" height="12"/><rect x="644.1" y="401.7" width="12" height="12"/><rect x="646.1" y="406.9" width="12" height="12"/><rect x="650.0" y="397.2" width="12" height="12"/><rect x="650.9" y="398.6" width="12" height="12"/><rect x="653.8" y="394.9" width="12" height="12"/><rect x="656.9" y="397.6" width="12" height="12"/><rect x="662.1" y="398.2" width="12" height="12"/><rect x="663.3" y="394.7" width="12" height="12"/><rect x="667.9" y="387.4" width="12" height="12"/><rect x="671.6" y="394.0" width="12" height="12"/><rect x="672.7" y="392.2" width="12" height="12"/><rect x="676.3" y="385.9" width="12" height="12"/><rect x="681.1" y="386.9" width="12" height="12"/><rect x="681.7" y="380.5" width="12" height="12"/><rect x="685.8" y="377.1" width="12" height="12"/><rect x="687.9" y="374.5" width="12" height="12"/><rect x="692.6" y="369.1" width="12" height="12"/><rect x="695.1" y="370.8" width="12" height="12"/><rect x="696.6" y="367.3" width="12" height="12"/><rect x="701.5" y="366.7" width="12" height="12"/><rect x="702.9" y="369.0" width="12" height="12"/><rect x="708.1" y="366.4" width="12" height="12"/><rect x="709.1" y="356.9" width="12" height="12"/><rect x="712.0" y="359.6" width="12" height="12"/><rect x="715.7" y="350.7" width="12" height="12"/><rect x="719.3" y="356.1" width="12" height="12"/><rect x="723.7" y="347.2" width="12" height="12"/><rect x="724.9" y="351.4" width="12" height="12"/><rect x="729.4" y="346.8" width="12" height="12"/><rect x="731.1" y="338.0" width="12" height="12"/><rect x="736.2" y="339.3" width="12" height="12"/><rect x="737.5" y="342.0" width="12" height="12"/><rect x="742.4" y="338.2" width="12" height="12"/><rect x="744.0" y="336.4" width="12" height="12"/><rect x="747.2" y="334.0" width="12" height="12"/><rect x="751.6" y="326.4" width="12" height="12"/><rect x="755.4" y="329.3" width="12" height="12"/><rect x="758.2" y="318.3" width="12" height="12"/><rect x="762.5" y="316.4" width="12" height="12"/><rect x="764.8" y="312.6" width="12" height="12"/><rect x="765.4" y="309.9" width="12" height="12"/><rect x="766.9" y="307.8" width="12" height="12"/><rect x="768.9" y="304.5" width="12" height="12"/><rect x="768.9" y="300.2" width="12" height="12"/><rect x="769.1" y="295.5" width="12" height="12"/><rect x="769.5" y="292.3" width="12" height="12"/><rect x="771.7" y="294.5" width="12" height="12"/><rect x="770.6" y="296.7" width="12" height="12"/><rect x="773.3" y="296.1" width="12" height="12"/><rect x="773.5" y="302.3" width="12" height="12"/><rect x="773.0" y="309.3" width="12" height="12"/><rect x="773.2" y="309.1" width="12" height="12"/><rect x="774.6" y="316.8" width="12" height="12"/><rect x="776.0" y="312.3" width="12" height="12"/><rect x="779.6" y="307.4" width="12" height="12"/><rect x="781.2" y="301.5" width="12" height="12"/><rect x="782.7" y="296.3" width="12" height="12"/><rect x="785.1" y="299.3" width="12" height="12"/><rect x="788.0" y="290.4" width="12" height="12"/><rect x="789.9" y="294.1" width="12" height="12"/><rect x="794.6" y="289.3" width="12" height="12"/><rect x="795.2" y="281.9" width="12" height="12"/><rect x="797.6" y="280.9" width="12" height="12"/><rect x="799.6" y="277.7" width="12" height="12"/><rect x="802.3" y="279.7" width="12" height="12"/><rect x="806.8" y="272.5" width="12" height="12"/><rect x="807.7" y="273.9" width="12" height="12"/><rect x="811.0" y="265.1" width="12" height="12"/><rect x="813.2" y="262.7" width="12" height="12"/><rect x="817.7" y="261.2" width="12" height="12"/><rect x="819.9" y="258.5" width="12" height="12"/><rect x="822.4" y="253.4" width="12" height="12"/><rect x="825.8" y="252.0" width="12" height="12"/><rect x="828.8" y="247.0" width="12" height="12"/><rect x="832.8" y="247.9" width="12" height="12"/><rect x="836.9" y="249.7" width="12" height="12"/><rect x="840.6" y="249.8" width="12" height="12"/><rect x="843.7" y="250.8" width="12" height="12"/><rect x="845.9" y="244.1" width="12" height="12"/><rect x="850.9" y="241.1" width="12" height="12"/><rect x="853.4" y="244.8" width="12" height="12"/><rect x="854.5" y="245.6" width="12" height="12"/><rect x="860.3" y="242.3" width="12" height="12"/><rect x="862.8" y="242.9" width="12" height="12"/><rect x="864.1" y="238.7" width="12" height="12"/><rect x="868.2" y="240.6" width="12" height="12"/><rect x="872.2" y="239.3" width="12" height="12"/><rect x="874.6" y="238.7" width="12" height="12"/><rect x="877.9" y="235.4" width="12" height="12"/><rect x="879.6" y="227.6" width="12" height="12"/><rect x="882.3" y="229.6" width="12" height="12"/><rect x="885.3" y="233.1" width="12" height="12"/><rect x="889.7" y="229.8" width="12" height="12"/><rect x="892.9" y="229.1" width="12" height="12"/><rect x="895.6" y="221.0" width="12" height="12"/><rect x="899.6" y="229.0" width="12" height="12"/><rect x="901.8" y="227.5" width="12" height="12"/><rect x="905.4" y="223.3" width="12" height="12"/><rect x="908.8" y="225.7" width="12" height="12"/><rect x="909.9" y="226.4" width="12" height="12"/><rect x="915.0" y="226.4" width="12" height="12"/><rect x="918.1" y="234.6" width="12" height="12"/><rect x="920.5" y="229.3" width="12" height="12"/><rect x="923.5" y="232.8" width="12" height="12"/><rect x="927.6" y="233.5" width="12" height="12"/><rect x="930.5" y="229.4" width="12" height="12"/><rect x="932.2" y="232.4" width="12" height="12"/><rect x="937.2" y="234.2" width="12" height="12"/><rect x="939.9" y="232.6" width="12" height="12"/><rect x="941.6" y="236.5" width="12" height="12"/><rect x="946.7" y="242.0" width="12" height="12"/><rect x="949.9" y="239.3" width="12" height="12"/><rect x="952.6" y="242.3" width="12" height="12"/><rect x="955.7" y="240.2" width="12" height="12"/><rect x="960.2" y="242.0" width="12" height="12"/><rect x="963.7" y="250.4" width="12" height="12"/><rect x="964.0" y="246.6" width="12" height="12"/><rect x="969.6" y="252.7" width="12" height="12"/><rect x="971.7" y="246.7" width="12" height="12"/><rect x="974.2" y="254.5" width="12" height="12"/><rect x="977.5" y="251.8" width="12" height="12"/><rect x="980.5" y="252.2" width="12" height="12"/><rect x="986.1" y="249.3" width="12" height="12"/><rect x="989.0" y="254.1" width="12" height="12"/><rect x="992.2" y="257.8" width="12" height="12"/><rect x="993.2" y="261.6" width="12" height="12"/><rect x="997.0" y="254.6" width="12" height="12"/><rect x="998.7" y="260.3" width="12" height="12"/><rect x="1003.1" y="259.3" width="12" height="12"/><rect x="1005.4" y="260.7" width="12" height="12"/><rect x="1009.0" y="266.6" width="12" height="12"/><rect x="1011.2" y="266.6" width="12" height="12"/><rect x="1016.9" y="261.3" width="12" height="12"/><rect x="1020.3" y="268.1" width="12" height="12"/><rect x="1023.1" y="267.0" width="12" height="12"/><rect x="1024.3" y="271.1" width="12" height="12"/><rect x="1029.1" y="276.2" width="12" height="12"/><rect x="1030.0" y="277.6" width="12" height="12"/><rect x="1032.6" y="276.9" width="12" height="12"/><rect x="1035.0" y="287.9" width="12" height="12"/><rect x="1038.4" y="292.0" width="12" height="12"/><rect x="1041.1" y="288.4" width="12" height="12"/><rect x="1044.8" y="290.7" width="12" height="12"/><rect x="1047.2" y="301.5" width="12" height="12"/><rect x="1052.1" y="303.3" width="12" height="12"/><rect x="1054.6" y="307.6" width="12" height="12"/><rect x="1058.8" y="307.3" width="12" height="12"/><rect x="1061.5" y="305.6" width="12" height="12"/><rect x="1064.8" y="312.9" width="12" height="12"/><rect x="1068.2" y="318.1" width="12" height="12"/><rect x="1070.1" y="315.5" width="12" height="12"/><rect x="1075.3" y="319.6" width="12" height="12"/><rect x="1076.7" y="325.0" width="12" height="12"/><rect x="1078.9" y="332.3" width="12" height="12"/><rect x="1083.7" y="330.8" width="12" height="12"/><rect x="1085.5" y="334.5" width="12" height="12"/><rect x="1087.9" y="338.7" width="12" height="12"/><rect x="1089.5" y="339.7" width="12" height="12"/><rect x="1092.4" y="350.5" width="12" height="12"/><rect x="1096.0" y="346.9" width="12" height="12"/><rect x="1100.0" y="357.7" width="12" height="12"/><rect x="1101.3" y="352.1" width="12" height="12"/><rect x="1103.3" y="354.7" width="12" height="12"/><rect x="1106.5" y="357.7" width="12" height="12"/><rect x="1109.0" y="362.4" width="12" height="12"/><rect x="1112.7" y="371.7" width="12" height="12"/><rect x="1116.0" y="370.0" width="12" height="12"/><rect x="1117.7" y="374.1" width="12" height="12"/><rect x="1119.8" y="375.3" width="12" height="12"/><rect x="1121.1" y="377.7" width="12" height="12"/><rect x="1126.0" y="379.2" width="12" height="12"/><rect x="1126.9" y="387.3" width="12" height="12"/><rect x="1130.2" y="386.2" width="12" height="12"/><rect x="1130.6" y="389.5" width="12" height="12"/><rect x="1133.2" y="394.5" width="12" height="12"/><rect x="1137.1" y="401.6" width="12" height="12"/><rect x="1138.7" y="396.6" width="12" height="12"/><rect x="1138.1" y="406.8" width="12" height="12"/><rect x="1142.6" y="407.7" width="12" height="12"/><rect x="1143.6" y="406.3" width="12" height="12"/><rect x="1144.9" y="418.9" width="12" height="12"/><rect x="1148.2" y="421.5" width="12" height="12"/><rect x="1150.5" y="418.7" width="12" height="12"/><rect x="1149.8" y="421.0" width="12" height="12"/><rect x="1154.2" y="429.5" width="12" height="12"/><rect x="1158.6" y="433.0" width="12" height="12"/><rect x="1160.9" y="436.6" width="12" height="12"/><rect x="1163.4" y="437.6" width="12" height="12"/><rect x="1165.3" y="443.0" width="12" height="12"/><rect x="1169.1" y="447.6" width="12" height="12"/><rect x="1173.4" y="444.5" width="12" height="12"/><rect x="1175.0" y="445.9" width="12" height="12"/><rect x="1179.7" y="452.3" width="12" height="12"/><rect x="1181.3" y="447.9" width="12" height="12"/><rect x="1185.6" y="454.9" width="12" height="12"/><rect x="1188.4" y="453.2" width="12" height="12"/><rect x="1192.2" y="452.9" width="12" height="12"/><rect x="1194.4" y="459.3" width="12" height="12"/><rect x="1199.4" y="461.9" width="12" height="12"/><rect x="1202.2" y="461.1" width="12" height="12"/><rect x="1203.2" y="459.6" width="12" height="12"/><rect x="1208.4" y="464.9" width="12" height="12"/><rect x="1209.4" y="458.9" width="12" height="12"/><rect x="1213.0" y="466.2" width="12" height="12"/><rect x="1215.8" y="462.9" width="12" height="12"/><rect x="1219.5" y="470.4" width="12" height="12"/><rect x="1221.2" y="462.2" width="12" height="12"/><rect x="1224.5" y="466.9" width="12" height="12"/></g>
<polyline points="221.0,490.3 221.0,478.6 231.4,470.9 235.9,455.3 248.8,455.3 255.3,435.9 270.8,441.1 270.8,423.0 286.4,424.3 287.7,403.6 298.0,410.0 308.4,390.6 313.6,373.8 324.0,351.8 326.5,354.4 339.4,324.6 345.9,310.4 346.6,300.1 352.6,280.9 352.6,269.0 363.3,260.6 362.1,240.2 368.1,223.4 380.1,211.5 377.7,201.9 384.9,185.1 390.9,168.3 396.9,187.5 401.7,230.6 401.7,269.0 412.4,288.1 418.4,273.7 423.2,254.6 423.2,201.9 429.2,183.9 434.0,139.6 440.0,149.2 449.6,161.1 466.3,176.7 473.5,192.3 478.2,187.5 483.6,199.7 483.6,213.3 482.9,222.8 489.0,237.8 498.5,243.2 506.0,222.8 516.2,233.7 527.1,240.5 527.1,305.8 528.0,250.0 536.6,229.6 546.1,218.8 554.3,205.2 565.2,191.6 570.6,180.7 576.0,161.7 586.9,150.8 597.8,131.8 603.9,144.0 604.6,154.9 608.7,168.5 608.7,205.2 608.7,225.6 614.1,237.8 614.1,246.0 626.3,270.4 625.0,246.0 630.4,222.8 631.8,205.2 631.8,188.8 637.2,180.7 639.9,153.5 641.3,134.5 646.7,138.5 657.6,144.0 665.8,154.9 675.3,154.9 680.7,176.6 684.8,187.5 695.7,202.4 695.7,212.0 701.1,222.8 709.3,225.6 714.7,229.6 723.5,254.1 735.0,241.9 745.1,243.2 751.3,229.6 762.1,239.1 767.6,231.0 773.0,205.2 778.5,187.5 789.3,173.9 796.1,167.1 801.6,156.2 806.3,138.5 808.4,150.8 812.4,171.2 817.2,207.9 817.2,216.0 822.0,245.9 821.3,255.5 833.5,282.6 839.0,235.1 839.6,221.5 844.4,195.6 845.1,180.7 849.8,172.5 849.1,156.2 849.8,139.9 860.7,139.9 866.8,150.8 870.9,161.7 876.3,192.9 888.6,178.0 899.4,195.6 899.4,210.6 905.0,230.0 915.0,245.0 923.9,251.4 937.5,262.3 948.4,269.0 957.9,277.2 964.7,300.3 970.1,273.1 971.5,239.1 978.3,225.6 981.0,205.2 985.1,191.6 992.0,170.8 1008.5,162.0 1019.5,166.4 1025.0,176.3 1023.9,199.4 1029.4,219.2 1030.5,250.0 1033.8,263.2 1048.1,278.6 1052.5,242.3 1052.5,223.6 1062.4,187.3 1062.4,179.6 1073.4,195.0 1084.4,206.0 1084.4,228.0 1089.9,236.8 1102.0,258.8 1102.0,269.8 1112.0,285.2 1113.0,298.4 1121.8,327.1 1124.0,346.9 1128.5,360.1 1140.0,378.0 1152.7,393.1 1168.0,408.5 1183.5,423.9 1198.9,434.9 1216.5,443.7 1227.5,456.9" fill="none" stroke="#0000ff" stroke-width="3.5" stroke-linejoin="round"/>
<g fill="#fff" stroke="#6c6cff" stroke-width="1.4"><circle cx="221.0" cy="490.3" r="6.6"/><circle cx="221.5" cy="484.5" r="6.6"/><circle cx="221.9" cy="484.0" r="6.6"/><circle cx="221.0" cy="476.7" r="6.6"/><circle cx="225.9" cy="474.8" r="6.6"/><circle cx="228.9" cy="471.7" r="6.6"/><circle cx="230.6" cy="472.6" r="6.6"/><circle cx="231.9" cy="469.9" r="6.6"/><circle cx="233.6" cy="461.1" r="6.6"/><circle cx="233.9" cy="458.7" r="6.6"/><circle cx="236.4" cy="458.2" r="6.6"/><circle cx="239.1" cy="454.6" r="6.6"/><circle cx="243.6" cy="458.3" r="6.6"/><circle cx="247.7" cy="452.4" r="6.6"/><circle cx="248.8" cy="450.7" r="6.6"/><circle cx="252.6" cy="450.0" r="6.6"/><circle cx="253.4" cy="446.8" r="6.6"/><circle cx="255.3" cy="438.7" r="6.6"/><circle cx="254.4" cy="438.7" r="6.6"/><circle cx="259.9" cy="434.2" r="6.6"/><circle cx="263.5" cy="437.7" r="6.6"/><circle cx="266.5" cy="438.7" r="6.6"/><circle cx="269.8" cy="437.9" r="6.6"/><circle cx="270.1" cy="436.5" r="6.6"/><circle cx="272.2" cy="431.5" r="6.6"/><circle cx="272.2" cy="428.4" r="6.6"/><circle cx="270.4" cy="428.7" r="6.6"/><circle cx="271.8" cy="422.6" r="6.6"/><circle cx="273.3" cy="423.2" r="6.6"/><circle cx="278.2" cy="426.3" r="6.6"/><circle cx="281.6" cy="423.1" r="6.6"/><circle cx="287.6" cy="421.3" r="6.6"/><circle cx="286.4" cy="422.2" r="6.6"/><circle cx="287.7" cy="413.1" r="6.6"/><circle cx="285.8" cy="409.1" r="6.6"/><circle cx="288.7" cy="406.2" r="6.6"/><circle cx="288.4" cy="406.2" r="6.6"/><circle cx="290.7" cy="404.3" r="6.6"/><circle cx="295.9" cy="408.6" r="6.6"/><circle cx="297.3" cy="411.4" r="6.6"/><circle cx="299.2" cy="405.3" r="6.6"/><circle cx="300.0" cy="405.2" r="6.6"/><circle cx="304.4" cy="401.2" r="6.6"/><circle cx="306.3" cy="394.0" r="6.6"/><circle cx="305.9" cy="393.7" r="6.6"/><circle cx="309.8" cy="393.5" r="6.6"/><circle cx="309.4" cy="384.8" r="6.6"/><circle cx="310.8" cy="382.2" r="6.6"/><circle cx="313.6" cy="376.0" r="6.6"/><circle cx="314.5" cy="375.3" r="6.6"/><circle cx="316.3" cy="371.9" r="6.6"/><circle cx="317.4" cy="365.4" r="6.6"/><circle cx="318.3" cy="361.9" r="6.6"/><circle cx="321.4" cy="356.4" r="6.6"/><circle cx="321.4" cy="357.1" r="6.6"/><circle cx="323.2" cy="349.0" r="6.6"/><circle cx="325.1" cy="354.7" r="6.6"/><circle cx="327.4" cy="354.2" r="6.6"/><circle cx="330.5" cy="350.9" r="6.6"/><circle cx="330.1" cy="341.8" r="6.6"/><circle cx="331.0" cy="341.1" r="6.6"/><circle cx="334.3" cy="337.5" r="6.6"/><circle cx="334.3" cy="334.0" r="6.6"/><circle cx="336.9" cy="332.3" r="6.6"/><circle cx="338.7" cy="330.1" r="6.6"/><circle cx="339.9" cy="322.2" r="6.6"/><circle cx="342.0" cy="319.7" r="6.6"/><circle cx="342.9" cy="316.7" r="6.6"/><circle cx="345.0" cy="312.0" r="6.6"/><circle cx="345.1" cy="308.8" r="6.6"/><circle cx="345.2" cy="307.7" r="6.6"/><circle cx="346.8" cy="299.0" r="6.6"/><circle cx="347.5" cy="299.4" r="6.6"/><circle cx="349.0" cy="290.7" r="6.6"/><circle cx="351.1" cy="289.6" r="6.6"/><circle cx="352.9" cy="282.2" r="6.6"/><circle cx="352.5" cy="282.9" r="6.6"/><circle cx="353.6" cy="279.6" r="6.6"/><circle cx="351.2" cy="271.6" r="6.6"/><circle cx="351.5" cy="267.0" r="6.6"/><circle cx="357.6" cy="266.7" r="6.6"/><circle cx="361.0" cy="262.6" r="6.6"/><circle cx="364.4" cy="260.3" r="6.6"/><circle cx="362.3" cy="258.3" r="6.6"/><circle cx="364.2" cy="249.9" r="6.6"/><circle cx="362.9" cy="249.1" r="6.6"/><circle cx="361.5" cy="243.4" r="6.6"/><circle cx="361.0" cy="238.3" r="6.6"/><circle cx="362.9" cy="236.6" r="6.6"/><circle cx="365.6" cy="229.9" r="6.6"/><circle cx="365.1" cy="226.5" r="6.6"/><circle cx="368.6" cy="221.4" r="6.6"/><circle cx="370.5" cy="218.5" r="6.6"/><circle cx="375.0" cy="217.8" r="6.6"/><circle cx="375.8" cy="211.9" r="6.6"/><circle cx="379.8" cy="211.8" r="6.6"/><circle cx="379.3" cy="204.1" r="6.6"/><circle cx="376.7" cy="203.2" r="6.6"/><circle cx="378.9" cy="197.2" r="6.6"/><circle cx="380.0" cy="198.1" r="6.6"/><circle cx="381.5" cy="192.2" r="6.6"/><circle cx="383.0" cy="187.9" r="6.6"/><circle cx="386.0" cy="188.3" r="6.6"/><circle cx="386.0" cy="179.0" r="6.6"/><circle cx="388.6" cy="174.8" r="6.6"/><circle cx="387.9" cy="175.1" r="6.6"/><circle cx="390.7" cy="170.4" r="6.6"/><circle cx="391.8" cy="174.6" r="6.6"/><circle cx="393.2" cy="173.8" r="6.6"/><circle cx="393.0" cy="180.1" r="6.6"/><circle cx="396.1" cy="186.3" r="6.6"/><circle cx="395.7" cy="188.3" r="6.6"/><circle cx="401.7" cy="230.6" r="6.6"/><circle cx="401.7" cy="269.0" r="6.6"/><circle cx="403.1" cy="272.2" r="6.6"/><circle cx="404.2" cy="274.0" r="6.6"/><circle cx="407.1" cy="281.3" r="6.6"/><circle cx="407.7" cy="281.7" r="6.6"/><circle cx="411.5" cy="287.9" r="6.6"/><circle cx="411.5" cy="285.7" r="6.6"/><circle cx="415.2" cy="287.5" r="6.6"/><circle cx="415.3" cy="278.0" r="6.6"/><circle cx="418.2" cy="276.6" r="6.6"/><circle cx="419.6" cy="274.5" r="6.6"/><circle cx="420.3" cy="267.7" r="6.6"/><circle cx="421.2" cy="264.3" r="6.6"/><circle cx="421.0" cy="264.5" r="6.6"/><circle cx="423.2" cy="256.4" r="6.6"/><circle cx="422.4" cy="254.0" r="6.6"/><circle cx="423.3" cy="250.1" r="6.6"/><circle cx="422.1" cy="245.5" r="6.6"/><circle cx="423.9" cy="245.8" r="6.6"/><circle cx="421.8" cy="239.9" r="6.6"/><circle cx="424.0" cy="232.8" r="6.6"/><circle cx="424.2" cy="229.6" r="6.6"/><circle cx="423.5" cy="228.6" r="6.6"/><circle cx="423.6" cy="223.2" r="6.6"/><circle cx="423.0" cy="221.3" r="6.6"/><circle cx="423.0" cy="218.0" r="6.6"/><circle cx="423.0" cy="212.8" r="6.6"/><circle cx="421.8" cy="210.2" r="6.6"/><circle cx="423.2" cy="204.0" r="6.6"/><circle cx="424.0" cy="203.7" r="6.6"/><circle cx="424.3" cy="196.2" r="6.6"/><circle cx="425.5" cy="192.2" r="6.6"/><circle cx="425.7" cy="190.7" r="6.6"/><circle cx="426.8" cy="187.1" r="6.6"/><circle cx="429.2" cy="181.0" r="6.6"/><circle cx="430.0" cy="177.5" r="6.6"/><circle cx="430.7" cy="178.3" r="6.6"/><circle cx="430.4" cy="170.0" r="6.6"/><circle cx="430.8" cy="168.4" r="6.6"/><circle cx="432.6" cy="163.1" r="6.6"/><circle cx="432.7" cy="164.9" r="6.6"/><circle cx="432.7" cy="160.1" r="6.6"/><circle cx="431.5" cy="157.4" r="6.6"/><circle cx="432.8" cy="153.6" r="6.6"/><circle cx="434.4" cy="144.8" r="6.6"/><circle cx="434.5" cy="146.0" r="6.6"/><circle cx="432.7" cy="138.6" r="6.6"/><circle cx="436.8" cy="140.6" r="6.6"/><circle cx="439.2" cy="144.6" r="6.6"/><circle cx="440.9" cy="146.9" r="6.6"/><circle cx="442.4" cy="154.9" r="6.6"/><circle cx="443.9" cy="153.6" r="6.6"/><circle cx="447.2" cy="157.0" r="6.6"/><circle cx="448.2" cy="159.1" r="6.6"/><circle cx="451.4" cy="166.5" r="6.6"/><circle cx="455.7" cy="168.8" r="6.6"/><circle cx="457.0" cy="170.7" r="6.6"/><circle cx="459.6" cy="171.7" r="6.6"/><circle cx="463.9" cy="173.2" r="6.6"/><circle cx="467.4" cy="177.1" r="6.6"/><circle cx="468.3" cy="183.0" r="6.6"/><circle cx="468.7" cy="187.7" r="6.6"/><circle cx="472.1" cy="187.7" r="6.6"/><circle cx="474.4" cy="190.8" r="6.6"/><circle cx="479.7" cy="188.0" r="6.6"/><circle cx="479.6" cy="193.3" r="6.6"/><circle cx="481.6" cy="193.6" r="6.6"/><circle cx="484.3" cy="196.8" r="6.6"/><circle cx="484.6" cy="202.7" r="6.6"/><circle cx="484.0" cy="211.9" r="6.6"/><circle cx="483.9" cy="214.3" r="6.6"/><circle cx="482.7" cy="214.9" r="6.6"/><circle cx="481.5" cy="220.6" r="6.6"/><circle cx="484.8" cy="226.1" r="6.6"/><circle cx="486.0" cy="232.8" r="6.6"/><circle cx="486.4" cy="232.3" r="6.6"/><circle cx="489.5" cy="234.7" r="6.6"/><circle cx="490.7" cy="238.7" r="6.6"/><circle cx="494.2" cy="240.5" r="6.6"/><circle cx="497.7" cy="243.7" r="6.6"/><circle cx="500.0" cy="237.9" r="6.6"/><circle cx="501.4" cy="236.2" r="6.6"/><circle cx="501.2" cy="235.8" r="6.6"/><circle cx="502.7" cy="227.4" r="6.6"/><circle cx="503.5" cy="227.1" r="6.6"/><circle cx="507.1" cy="224.6" r="6.6"/><circle cx="508.3" cy="224.0" r="6.6"/><circle cx="509.6" cy="229.2" r="6.6"/><circle cx="513.8" cy="230.0" r="6.6"/><circle cx="516.6" cy="233.3" r="6.6"/><circle cx="521.1" cy="237.5" r="6.6"/><circle cx="522.7" cy="240.8" r="6.6"/><circle cx="525.7" cy="240.7" r="6.6"/><circle cx="526.8" cy="242.4" r="6.6"/><circle cx="525.8" cy="249.5" r="6.6"/><circle cx="525.6" cy="251.7" r="6.6"/><circle cx="528.4" cy="252.7" r="6.6"/><circle cx="526.2" cy="259.3" r="6.6"/><circle cx="527.1" cy="263.2" r="6.6"/><circle cx="528.0" cy="263.8" r="6.6"/><circle cx="526.5" cy="268.2" r="6.6"/><circle cx="525.7" cy="275.6" r="6.6"/><circle cx="527.9" cy="278.2" r="6.6"/><circle cx="525.6" cy="282.6" r="6.6"/><circle cx="527.8" cy="283.8" r="6.6"/><circle cx="527.8" cy="287.4" r="6.6"/><circle cx="526.3" cy="288.8" r="6.6"/><circle cx="526.3" cy="292.0" r="6.6"/><circle cx="526.6" cy="300.1" r="6.6"/><circle cx="527.7" cy="304.4" r="6.6"/><circle cx="527.7" cy="304.3" r="6.6"/><circle cx="527.3" cy="301.7" r="6.6"/><circle cx="528.1" cy="298.5" r="6.6"/><circle cx="526.6" cy="295.5" r="6.6"/><circle cx="528.7" cy="289.1" r="6.6"/><circle cx="528.5" cy="284.1" r="6.6"/><circle cx="526.7" cy="281.8" r="6.6"/><circle cx="528.3" cy="282.6" r="6.6"/><circle cx="528.3" cy="274.9" r="6.6"/><circle cx="528.8" cy="271.2" r="6.6"/><circle cx="526.9" cy="271.2" r="6.6"/><circle cx="528.2" cy="266.1" r="6.6"/><circle cx="528.3" cy="264.2" r="6.6"/><circle cx="527.8" cy="259.6" r="6.6"/><circle cx="528.5" cy="256.0" r="6.6"/><circle cx="527.8" cy="251.4" r="6.6"/><circle cx="529.6" cy="245.4" r="6.6"/><circle cx="530.0" cy="244.0" r="6.6"/><circle cx="531.0" cy="242.4" r="6.6"/><circle cx="532.7" cy="233.4" r="6.6"/><circle cx="534.0" cy="235.7" r="6.6"/><circle cx="536.1" cy="227.3" r="6.6"/><circle cx="538.4" cy="223.1" r="6.6"/><circle cx="543.5" cy="223.3" r="6.6"/><circle cx="546.7" cy="220.3" r="6.6"/><circle cx="546.8" cy="216.0" r="6.6"/><circle cx="549.8" cy="214.0" r="6.6"/><circle cx="553.2" cy="211.1" r="6.6"/><circle cx="553.0" cy="207.6" r="6.6"/><circle cx="558.3" cy="204.6" r="6.6"/><circle cx="558.6" cy="196.5" r="6.6"/><circle cx="561.3" cy="192.0" r="6.6"/><circle cx="566.2" cy="193.6" r="6.6"/><circle cx="567.4" cy="190.0" r="6.6"/><circle cx="569.2" cy="183.0" r="6.6"/><circle cx="569.4" cy="178.1" r="6.6"/><circle cx="572.5" cy="175.0" r="6.6"/><circle cx="572.2" cy="172.6" r="6.6"/><circle cx="572.4" cy="167.7" r="6.6"/><circle cx="574.3" cy="166.9" r="6.6"/><circle cx="575.6" cy="160.6" r="6.6"/><circle cx="580.1" cy="159.0" r="6.6"/><circle cx="582.5" cy="157.0" r="6.6"/><circle cx="582.8" cy="153.0" r="6.6"/><circle cx="586.7" cy="152.5" r="6.6"/><circle cx="588.3" cy="148.9" r="6.6"/><circle cx="590.6" cy="142.7" r="6.6"/><circle cx="593.4" cy="138.7" r="6.6"/><circle cx="595.1" cy="136.0" r="6.6"/><circle cx="594.5" cy="133.1" r="6.6"/><circle cx="598.6" cy="134.9" r="6.6"/><circle cx="598.3" cy="135.8" r="6.6"/><circle cx="601.8" cy="141.8" r="6.6"/><circle cx="603.0" cy="144.0" r="6.6"/><circle cx="603.7" cy="149.8" r="6.6"/><circle cx="603.6" cy="154.1" r="6.6"/><circle cx="604.0" cy="153.1" r="6.6"/><circle cx="606.6" cy="159.4" r="6.6"/><circle cx="606.2" cy="164.8" r="6.6"/><circle cx="607.4" cy="170.3" r="6.6"/><circle cx="609.3" cy="174.0" r="6.6"/><circle cx="609.1" cy="174.9" r="6.6"/><circle cx="608.4" cy="178.8" r="6.6"/><circle cx="609.9" cy="180.5" r="6.6"/><circle cx="609.9" cy="183.8" r="6.6"/><circle cx="607.8" cy="189.0" r="6.6"/><circle cx="609.9" cy="194.2" r="6.6"/><circle cx="608.3" cy="200.3" r="6.6"/><circle cx="607.9" cy="201.3" r="6.6"/><circle cx="608.8" cy="206.8" r="6.6"/><circle cx="609.5" cy="210.2" r="6.6"/><circle cx="608.2" cy="212.3" r="6.6"/><circle cx="607.7" cy="219.6" r="6.6"/><circle cx="609.2" cy="223.1" r="6.6"/><circle cx="607.7" cy="225.2" r="6.6"/><circle cx="611.3" cy="230.2" r="6.6"/><circle cx="611.2" cy="233.5" r="6.6"/><circle cx="615.3" cy="236.1" r="6.6"/><circle cx="613.2" cy="240.6" r="6.6"/><circle cx="614.7" cy="248.2" r="6.6"/><circle cx="614.8" cy="247.3" r="6.6"/><circle cx="616.8" cy="251.9" r="6.6"/><circle cx="619.4" cy="254.3" r="6.6"/><circle cx="620.6" cy="258.0" r="6.6"/><circle cx="624.2" cy="264.9" r="6.6"/><circle cx="623.4" cy="269.9" r="6.6"/><circle cx="625.1" cy="269.7" r="6.6"/><circle cx="627.5" cy="268.2" r="6.6"/><circle cx="626.6" cy="261.9" r="6.6"/><circle cx="624.7" cy="259.1" r="6.6"/><circle cx="624.3" cy="252.3" r="6.6"/><circle cx="624.9" cy="247.1" r="6.6"/><circle cx="624.7" cy="247.9" r="6.6"/><circle cx="626.5" cy="242.1" r="6.6"/><circle cx="627.2" cy="238.0" r="6.6"/><circle cx="626.6" cy="235.1" r="6.6"/><circle cx="628.3" cy="232.1" r="6.6"/><circle cx="630.7" cy="226.2" r="6.6"/><circle cx="630.6" cy="224.4" r="6.6"/><circle cx="630.5" cy="216.7" r="6.6"/><circle cx="631.8" cy="216.4" r="6.6"/><circle cx="632.3" cy="210.9" r="6.6"/><circle cx="632.9" cy="206.3" r="6.6"/><circle cx="632.2" cy="200.8" r="6.6"/><circle cx="631.2" cy="197.8" r="6.6"/><circle cx="630.6" cy="192.4" r="6.6"/><circle cx="632.6" cy="190.2" r="6.6"/><circle cx="634.9" cy="183.2" r="6.6"/><circle cx="637.0" cy="180.4" r="6.6"/><circle cx="639.9" cy="153.5" r="6.6"/><circle cx="640.5" cy="149.1" r="6.6"/><circle cx="641.0" cy="148.7" r="6.6"/><circle cx="639.8" cy="143.1" r="6.6"/><circle cx="641.9" cy="137.6" r="6.6"/><circle cx="641.3" cy="137.5" r="6.6"/><circle cx="645.3" cy="138.8" r="6.6"/><circle cx="649.3" cy="142.1" r="6.6"/><circle cx="655.3" cy="142.3" r="6.6"/><circle cx="656.4" cy="144.5" r="6.6"/><circle cx="660.5" cy="149.0" r="6.6"/><circle cx="663.1" cy="152.2" r="6.6"/><circle cx="666.8" cy="155.0" r="6.6"/><circle cx="670.3" cy="157.8" r="6.6"/><circle cx="674.4" cy="156.1" r="6.6"/><circle cx="675.9" cy="160.2" r="6.6"/><circle cx="676.0" cy="165.2" r="6.6"/><circle cx="677.6" cy="162.9" r="6.6"/><circle cx="678.2" cy="168.7" r="6.6"/><circle cx="678.3" cy="172.5" r="6.6"/><circle cx="680.5" cy="177.9" r="6.6"/><circle cx="681.6" cy="178.7" r="6.6"/><circle cx="682.6" cy="185.4" r="6.6"/><circle cx="686.1" cy="187.7" r="6.6"/><circle cx="686.1" cy="192.4" r="6.6"/><circle cx="688.8" cy="191.6" r="6.6"/><circle cx="690.2" cy="198.2" r="6.6"/><circle cx="694.4" cy="200.3" r="6.6"/><circle cx="695.6" cy="202.8" r="6.6"/><circle cx="694.9" cy="210.2" r="6.6"/><circle cx="695.3" cy="212.9" r="6.6"/><circle cx="698.5" cy="217.6" r="6.6"/><circle cx="699.2" cy="217.9" r="6.6"/><circle cx="701.2" cy="220.4" r="6.6"/><circle cx="706.2" cy="223.3" r="6.6"/><circle cx="710.4" cy="224.1" r="6.6"/><circle cx="714.3" cy="228.0" r="6.6"/><circle cx="715.7" cy="231.1" r="6.6"/><circle cx="715.7" cy="238.0" r="6.6"/><circle cx="717.8" cy="238.5" r="6.6"/><circle cx="719.1" cy="243.5" r="6.6"/><circle cx="720.8" cy="248.0" r="6.6"/><circle cx="722.7" cy="249.7" r="6.6"/><circle cx="724.8" cy="256.4" r="6.6"/><circle cx="725.0" cy="253.1" r="6.6"/><circle cx="730.5" cy="249.8" r="6.6"/><circle cx="731.0" cy="247.1" r="6.6"/><circle cx="735.4" cy="238.8" r="6.6"/><circle cx="738.6" cy="245.4" r="6.6"/><circle cx="745.6" cy="241.6" r="6.6"/><circle cx="745.5" cy="237.5" r="6.6"/><circle cx="747.4" cy="238.2" r="6.6"/><circle cx="749.3" cy="230.8" r="6.6"/><circle cx="752.5" cy="231.5" r="6.6"/><circle cx="753.9" cy="235.3" r="6.6"/><circle cx="758.8" cy="237.7" r="6.6"/><circle cx="762.6" cy="241.6" r="6.6"/><circle cx="765.7" cy="237.2" r="6.6"/><circle cx="766.7" cy="232.2" r="6.6"/><circle cx="768.5" cy="228.9" r="6.6"/><circle cx="769.0" cy="226.1" r="6.6"/><circle cx="770.1" cy="218.4" r="6.6"/><circle cx="769.9" cy="213.9" r="6.6"/><circle cx="771.4" cy="209.7" r="6.6"/><circle cx="772.1" cy="206.6" r="6.6"/><circle cx="773.0" cy="205.2" r="6.6"/><circle cx="774.2" cy="204.0" r="6.6"/><circle cx="773.7" cy="200.3" r="6.6"/><circle cx="776.2" cy="195.0" r="6.6"/><circle cx="777.9" cy="193.2" r="6.6"/><circle cx="778.1" cy="187.0" r="6.6"/><circle cx="782.6" cy="181.4" r="6.6"/><circle cx="784.3" cy="181.6" r="6.6"/><circle cx="785.2" cy="178.0" r="6.6"/><circle cx="789.8" cy="176.7" r="6.6"/><circle cx="792.2" cy="173.6" r="6.6"/><circle cx="796.1" cy="167.0" r="6.6"/><circle cx="799.1" cy="160.5" r="6.6"/><circle cx="800.4" cy="160.6" r="6.6"/><circle cx="801.1" cy="158.5" r="6.6"/><circle cx="802.1" cy="152.5" r="6.6"/><circle cx="803.6" cy="150.9" r="6.6"/><circle cx="803.6" cy="145.2" r="6.6"/><circle cx="805.1" cy="142.4" r="6.6"/><circle cx="807.3" cy="137.2" r="6.6"/><circle cx="808.0" cy="142.0" r="6.6"/><circle cx="807.7" cy="145.2" r="6.6"/><circle cx="808.4" cy="153.8" r="6.6"/><circle cx="809.7" cy="156.7" r="6.6"/><circle cx="809.5" cy="157.8" r="6.6"/><circle cx="810.2" cy="163.6" r="6.6"/><circle cx="812.0" cy="168.9" r="6.6"/><circle cx="811.0" cy="172.6" r="6.6"/><circle cx="817.2" cy="207.9" r="6.6"/><circle cx="818.4" cy="212.2" r="6.6"/><circle cx="815.8" cy="214.7" r="6.6"/><circle cx="822.0" cy="245.9" r="6.6"/><circle cx="820.2" cy="248.7" r="6.6"/><circle cx="822.6" cy="256.2" r="6.6"/><circle cx="823.3" cy="260.7" r="6.6"/><circle cx="825.6" cy="263.0" r="6.6"/><circle cx="826.2" cy="266.5" r="6.6"/><circle cx="828.0" cy="269.7" r="6.6"/><circle cx="829.5" cy="270.6" r="6.6"/><circle cx="831.0" cy="275.6" r="6.6"/><circle cx="832.8" cy="276.7" r="6.6"/><circle cx="832.5" cy="279.6" r="6.6"/><circle cx="834.7" cy="281.6" r="6.6"/><circle cx="834.8" cy="274.5" r="6.6"/><circle cx="835.7" cy="273.5" r="6.6"/><circle cx="835.4" cy="266.4" r="6.6"/><circle cx="835.0" cy="263.8" r="6.6"/><circle cx="835.5" cy="260.2" r="6.6"/><circle cx="836.9" cy="259.8" r="6.6"/><circle cx="835.5" cy="253.8" r="6.6"/><circle cx="835.9" cy="247.3" r="6.6"/><circle cx="838.7" cy="246.5" r="6.6"/><circle cx="839.4" cy="242.1" r="6.6"/><circle cx="837.1" cy="238.0" r="6.6"/><circle cx="839.3" cy="237.9" r="6.6"/><circle cx="840.6" cy="230.4" r="6.6"/><circle cx="839.1" cy="223.5" r="6.6"/><circle cx="840.0" cy="219.7" r="6.6"/><circle cx="839.2" cy="214.7" r="6.6"/><circle cx="839.5" cy="215.3" r="6.6"/><circle cx="840.5" cy="213.4" r="6.6"/><circle cx="841.1" cy="209.1" r="6.6"/><circle cx="841.9" cy="199.9" r="6.6"/><circle cx="844.4" cy="197.7" r="6.6"/><circle cx="845.1" cy="193.6" r="6.6"/><circle cx="843.2" cy="193.6" r="6.6"/><circle cx="845.4" cy="190.4" r="6.6"/><circle cx="845.6" cy="181.8" r="6.6"/><circle cx="845.5" cy="182.0" r="6.6"/><circle cx="847.3" cy="179.4" r="6.6"/><circle cx="849.1" cy="175.5" r="6.6"/><circle cx="850.3" cy="165.3" r="6.6"/><circle cx="848.0" cy="165.3" r="6.6"/><circle cx="850.2" cy="157.6" r="6.6"/><circle cx="848.5" cy="157.7" r="6.6"/><circle cx="848.3" cy="154.4" r="6.6"/><circle cx="849.4" cy="145.2" r="6.6"/><circle cx="849.2" cy="144.5" r="6.6"/><circle cx="849.6" cy="141.0" r="6.6"/><circle cx="852.4" cy="141.8" r="6.6"/><circle cx="856.7" cy="140.8" r="6.6"/><circle cx="861.1" cy="139.4" r="6.6"/><circle cx="862.4" cy="145.4" r="6.6"/><circle cx="866.1" cy="149.0" r="6.6"/><circle cx="867.0" cy="149.5" r="6.6"/><circle cx="866.8" cy="157.5" r="6.6"/><circle cx="870.1" cy="160.2" r="6.6"/><circle cx="870.4" cy="162.4" r="6.6"/><circle cx="873.0" cy="167.7" r="6.6"/><circle cx="872.6" cy="168.3" r="6.6"/><circle cx="872.7" cy="175.9" r="6.6"/><circle cx="873.2" cy="178.5" r="6.6"/><circle cx="874.6" cy="183.7" r="6.6"/><circle cx="875.9" cy="183.7" r="6.6"/><circle cx="874.1" cy="187.5" r="6.6"/><circle cx="876.1" cy="193.5" r="6.6"/><circle cx="879.7" cy="192.4" r="6.6"/><circle cx="879.8" cy="189.1" r="6.6"/><circle cx="884.6" cy="186.3" r="6.6"/><circle cx="886.4" cy="179.5" r="6.6"/><circle cx="889.7" cy="180.0" r="6.6"/><circle cx="891.3" cy="184.2" r="6.6"/><circle cx="892.5" cy="182.4" r="6.6"/><circle cx="895.2" cy="190.5" r="6.6"/><circle cx="896.3" cy="193.7" r="6.6"/><circle cx="900.7" cy="193.9" r="6.6"/><circle cx="899.7" cy="200.5" r="6.6"/><circle cx="899.3" cy="201.2" r="6.6"/><circle cx="898.7" cy="208.5" r="6.6"/><circle cx="900.3" cy="210.3" r="6.6"/><circle cx="899.3" cy="216.4" r="6.6"/><circle cx="902.5" cy="216.7" r="6.6"/><circle cx="903.0" cy="224.8" r="6.6"/><circle cx="905.0" cy="226.3" r="6.6"/><circle cx="904.9" cy="230.6" r="6.6"/><circle cx="906.1" cy="231.0" r="6.6"/><circle cx="908.0" cy="237.3" r="6.6"/><circle cx="910.6" cy="239.4" r="6.6"/><circle cx="912.7" cy="242.1" r="6.6"/><circle cx="913.9" cy="242.1" r="6.6"/><circle cx="919.5" cy="246.3" r="6.6"/><circle cx="919.8" cy="250.1" r="6.6"/><circle cx="924.8" cy="249.2" r="6.6"/><circle cx="927.6" cy="253.1" r="6.6"/><circle cx="930.8" cy="253.8" r="6.6"/><circle cx="932.7" cy="262.7" r="6.6"/><circle cx="938.6" cy="262.2" r="6.6"/><circle cx="941.3" cy="263.0" r="6.6"/><circle cx="945.6" cy="266.3" r="6.6"/><circle cx="949.7" cy="270.7" r="6.6"/><circle cx="952.5" cy="274.7" r="6.6"/><circle cx="954.0" cy="271.5" r="6.6"/><circle cx="957.0" cy="275.2" r="6.6"/><circle cx="964.7" cy="300.3" r="6.6"/><circle cx="964.2" cy="293.5" r="6.6"/><circle cx="966.4" cy="294.9" r="6.6"/><circle cx="966.9" cy="291.5" r="6.6"/><circle cx="969.0" cy="282.0" r="6.6"/><circle cx="968.9" cy="280.2" r="6.6"/><circle cx="968.2" cy="279.9" r="6.6"/><circle cx="969.4" cy="273.5" r="6.6"/><circle cx="970.7" cy="272.2" r="6.6"/><circle cx="970.9" cy="264.9" r="6.6"/><circle cx="970.4" cy="259.6" r="6.6"/><circle cx="972.1" cy="261.1" r="6.6"/><circle cx="970.0" cy="251.3" r="6.6"/><circle cx="970.3" cy="249.5" r="6.6"/><circle cx="972.4" cy="249.2" r="6.6"/><circle cx="972.4" cy="240.0" r="6.6"/><circle cx="972.4" cy="240.4" r="6.6"/><circle cx="973.6" cy="238.8" r="6.6"/><circle cx="973.6" cy="230.1" r="6.6"/><circle cx="977.4" cy="231.8" r="6.6"/><circle cx="978.8" cy="224.3" r="6.6"/><circle cx="979.1" cy="223.2" r="6.6"/><circle cx="978.2" cy="216.3" r="6.6"/><circle cx="979.2" cy="211.0" r="6.6"/><circle cx="980.4" cy="207.2" r="6.6"/><circle cx="980.2" cy="202.9" r="6.6"/><circle cx="982.9" cy="197.5" r="6.6"/><circle cx="984.4" cy="194.2" r="6.6"/><circle cx="983.7" cy="194.3" r="6.6"/><circle cx="985.4" cy="190.9" r="6.6"/><circle cx="988.5" cy="187.2" r="6.6"/><circle cx="987.5" cy="180.9" r="6.6"/><circle cx="988.5" cy="180.5" r="6.6"/><circle cx="991.9" cy="175.1" r="6.6"/><circle cx="991.9" cy="169.8" r="6.6"/><circle cx="996.3" cy="168.9" r="6.6"/><circle cx="999.0" cy="165.0" r="6.6"/><circle cx="1001.1" cy="162.7" r="6.6"/><circle cx="1005.8" cy="164.1" r="6.6"/><circle cx="1007.4" cy="164.4" r="6.6"/><circle cx="1011.5" cy="162.9" r="6.6"/><circle cx="1014.8" cy="163.5" r="6.6"/><circle cx="1020.5" cy="165.3" r="6.6"/><circle cx="1020.3" cy="169.6" r="6.6"/><circle cx="1022.6" cy="175.6" r="6.6"/><circle cx="1023.8" cy="179.4" r="6.6"/><circle cx="1023.9" cy="199.4" r="6.6"/><circle cx="1023.7" cy="205.9" r="6.6"/><circle cx="1026.6" cy="205.5" r="6.6"/><circle cx="1027.1" cy="209.9" r="6.6"/><circle cx="1027.6" cy="213.3" r="6.6"/><circle cx="1029.0" cy="222.3" r="6.6"/><circle cx="1031.0" cy="225.8" r="6.6"/><circle cx="1028.5" cy="225.6" r="6.6"/><circle cx="1031.0" cy="227.9" r="6.6"/><circle cx="1030.6" cy="233.3" r="6.6"/><circle cx="1031.5" cy="235.4" r="6.6"/><circle cx="1031.1" cy="241.3" r="6.6"/><circle cx="1029.3" cy="243.0" r="6.6"/><circle cx="1031.5" cy="250.2" r="6.6"/><circle cx="1030.7" cy="254.0" r="6.6"/><circle cx="1033.9" cy="257.0" r="6.6"/><circle cx="1034.0" cy="260.9" r="6.6"/><circle cx="1035.7" cy="268.0" r="6.6"/><circle cx="1040.2" cy="267.4" r="6.6"/><circle cx="1041.1" cy="269.8" r="6.6"/><circle cx="1045.6" cy="275.5" r="6.6"/><circle cx="1047.4" cy="276.7" r="6.6"/><circle cx="1052.5" cy="242.3" r="6.6"/><circle cx="1052.8" cy="239.9" r="6.6"/><circle cx="1053.4" cy="235.4" r="6.6"/><circle cx="1051.6" cy="228.3" r="6.6"/><circle cx="1053.2" cy="226.8" r="6.6"/><circle cx="1053.2" cy="220.8" r="6.6"/><circle cx="1062.4" cy="187.3" r="6.6"/><circle cx="1063.3" cy="182.4" r="6.6"/><circle cx="1063.4" cy="181.9" r="6.6"/><circle cx="1064.6" cy="179.6" r="6.6"/><circle cx="1068.0" cy="185.6" r="6.6"/><circle cx="1070.1" cy="187.3" r="6.6"/><circle cx="1070.3" cy="194.0" r="6.6"/><circle cx="1073.0" cy="192.8" r="6.6"/><circle cx="1075.8" cy="198.4" r="6.6"/><circle cx="1077.4" cy="200.6" r="6.6"/><circle cx="1081.5" cy="203.4" r="6.6"/><circle cx="1083.3" cy="207.4" r="6.6"/><circle cx="1085.3" cy="212.0" r="6.6"/><circle cx="1083.9" cy="214.7" r="6.6"/><circle cx="1084.0" cy="218.6" r="6.6"/><circle cx="1083.1" cy="223.1" r="6.6"/><circle cx="1085.8" cy="224.3" r="6.6"/><circle cx="1084.4" cy="228.2" r="6.6"/><circle cx="1087.3" cy="229.3" r="6.6"/><circle cx="1091.3" cy="235.0" r="6.6"/><circle cx="1091.0" cy="237.9" r="6.6"/><circle cx="1093.2" cy="246.2" r="6.6"/><circle cx="1094.5" cy="245.2" r="6.6"/><circle cx="1098.6" cy="249.5" r="6.6"/><circle cx="1098.5" cy="255.8" r="6.6"/><circle cx="1102.2" cy="258.9" r="6.6"/><circle cx="1102.6" cy="259.9" r="6.6"/><circle cx="1103.1" cy="267.5" r="6.6"/><circle cx="1100.6" cy="267.4" r="6.6"/><circle cx="1104.0" cy="272.9" r="6.6"/><circle cx="1105.3" cy="273.5" r="6.6"/><circle cx="1107.7" cy="276.7" r="6.6"/><circle cx="1110.3" cy="284.4" r="6.6"/><circle cx="1110.9" cy="285.7" r="6.6"/><circle cx="1113.1" cy="287.5" r="6.6"/><circle cx="1113.6" cy="296.8" r="6.6"/><circle cx="1112.7" cy="297.9" r="6.6"/><circle cx="1115.1" cy="302.2" r="6.6"/><circle cx="1114.9" cy="308.4" r="6.6"/><circle cx="1117.1" cy="308.1" r="6.6"/><circle cx="1116.6" cy="311.7" r="6.6"/><circle cx="1118.3" cy="319.4" r="6.6"/><circle cx="1120.5" cy="322.6" r="6.6"/><circle cx="1121.6" cy="325.7" r="6.6"/><circle cx="1120.5" cy="327.2" r="6.6"/><circle cx="1123.6" cy="333.8" r="6.6"/><circle cx="1121.9" cy="334.5" r="6.6"/><circle cx="1123.5" cy="338.1" r="6.6"/><circle cx="1123.7" cy="340.2" r="6.6"/><circle cx="1123.8" cy="346.9" r="6.6"/><circle cx="1124.1" cy="349.0" r="6.6"/><circle cx="1128.4" cy="357.5" r="6.6"/><circle cx="1129.8" cy="361.0" r="6.6"/><circle cx="1131.7" cy="366.1" r="6.6"/><circle cx="1134.3" cy="364.3" r="6.6"/><circle cx="1135.8" cy="369.3" r="6.6"/><circle cx="1138.2" cy="373.0" r="6.6"/><circle cx="1140.1" cy="380.7" r="6.6"/><circle cx="1142.9" cy="379.4" r="6.6"/><circle cx="1145.1" cy="383.6" r="6.6"/><circle cx="1149.0" cy="385.7" r="6.6"/><circle cx="1149.6" cy="391.0" r="6.6"/><circle cx="1151.6" cy="393.7" r="6.6"/><circle cx="1156.6" cy="395.8" r="6.6"/><circle cx="1157.1" cy="398.0" r="6.6"/><circle cx="1160.5" cy="398.5" r="6.6"/><circle cx="1161.8" cy="401.0" r="6.6"/><circle cx="1164.8" cy="405.3" r="6.6"/><circle cx="1167.4" cy="406.9" r="6.6"/><circle cx="1169.3" cy="411.4" r="6.6"/><circle cx="1174.2" cy="414.3" r="6.6"/><circle cx="1176.0" cy="417.2" r="6.6"/><circle cx="1177.4" cy="420.1" r="6.6"/><circle cx="1180.8" cy="421.6" r="6.6"/><circle cx="1183.8" cy="423.7" r="6.6"/><circle cx="1186.0" cy="424.5" r="6.6"/><circle cx="1188.8" cy="428.4" r="6.6"/><circle cx="1192.4" cy="431.0" r="6.6"/><circle cx="1194.4" cy="431.8" r="6.6"/><circle cx="1200.0" cy="433.2" r="6.6"/><circle cx="1202.6" cy="436.6" r="6.6"/><circle cx="1205.3" cy="441.5" r="6.6"/><circle cx="1208.8" cy="441.9" r="6.6"/><circle cx="1212.0" cy="439.2" r="6.6"/><circle cx="1217.6" cy="443.3" r="6.6"/><circle cx="1217.9" cy="446.3" r="6.6"/><circle cx="1221.8" cy="451.8" r="6.6"/><circle cx="1223.6" cy="451.8" r="6.6"/><circle cx="1228.9" cy="458.4" r="6.6"/></g>
<polyline points="1417.5,543.1 1429.6,603.2 1441.7,538.8 1453.8,614.4 1465.9,563.7 1478.0,545.2 1490.1,623.8 1502.2,611.0 1514.3,618.7 1526.4,623.8 1538.5,595.5 1550.6,655.6 1562.7,605.0 1574.8,536.2 1586.9,563.7 1599.0,586.9 1611.0,543.1 1623.1,603.2 1635.2,513.9 1647.3,529.3 1659.4,468.4 1671.5,458.9 1683.6,464.1 1695.7,356.7 1707.8,356.7 1719.9,350.5 1732.0,297.5 1744.1,274.2 1756.2,262.5 1768.3,271.3 1780.4,210.5 1792.5,195.5 1804.6,193.2 1816.7,171.3 1828.8,167.1 1840.9,137.0 1853.0,115.2 1865.1,143.7 1877.2,126.1 1889.3,158.7 1901.4,153.7 1913.5,157.9 1925.6,178.8 1937.7,166.8 1949.8,119.7 1961.9,147.9 1974.0,162.9 1986.0,156.7 1998.1,137.0 2010.2,153.7 2022.3,188.9 2034.4,162.9 2046.5,156.2 2058.6,167.1 2070.7,152.0 2082.8,152.0 2094.9,141.1 2107.0,147.9 2119.1,66.4 2131.2,86.3 2143.3,92.0 2155.4,190.2 2167.5,251.4" fill="none" stroke="#0000ff" stroke-width="5" stroke-linejoin="round"/>
<g fill="#fff" stroke="#7878ff" stroke-width="2"><circle cx="1417.5" cy="543.1" r="7.6"/><circle cx="1429.6" cy="603.2" r="7.6"/><circle cx="1441.7" cy="538.8" r="7.6"/><circle cx="1453.8" cy="614.4" r="7.6"/><circle cx="1465.9" cy="563.7" r="7.6"/><circle cx="1478.0" cy="545.2" r="7.6"/><circle cx="1490.1" cy="623.8" r="7.6"/><circle cx="1502.2" cy="611.0" r="7.6"/><circle cx="1514.3" cy="618.7" r="7.6"/><circle cx="1526.4" cy="623.8" r="7.6"/><circle cx="1538.5" cy="595.5" r="7.6"/><circle cx="1550.6" cy="655.6" r="7.6"/><circle cx="1562.7" cy="605.0" r="7.6"/><circle cx="1574.8" cy="536.2" r="7.6"/><circle cx="1586.9" cy="563.7" r="7.6"/><circle cx="1599.0" cy="586.9" r="7.6"/><circle cx="1611.0" cy="543.1" r="7.6"/><circle cx="1623.1" cy="603.2" r="7.6"/><circle cx="1635.2" cy="513.9" r="7.6"/><circle cx="1647.3" cy="529.3" r="7.6"/><circle cx="1659.4" cy="468.4" r="7.6"/><circle cx="1671.5" cy="458.9" r="7.6"/><circle cx="1683.6" cy="464.1" r="7.6"/><circle cx="1695.7" cy="356.7" r="7.6"/><circle cx="1707.8" cy="356.7" r="7.6"/><circle cx="1719.9" cy="350.5" r="7.6"/><circle cx="1732.0" cy="297.5" r="7.6"/><circle cx="1744.1" cy="274.2" r="7.6"/><circle cx="1756.2" cy="262.5" r="7.6"/><circle cx="1768.3" cy="271.3" r="7.6"/><circle cx="1780.4" cy="210.5" r="7.6"/><circle cx="1792.5" cy="195.5" r="7.6"/><circle cx="1804.6" cy="193.2" r="7.6"/><circle cx="1816.7" cy="171.3" r="7.6"/><circle cx="1828.8" cy="167.1" r="7.6"/><circle cx="1840.9" cy="137.0" r="7.6"/><circle cx="1853.0" cy="115.2" r="7.6"/><circle cx="1865.1" cy="143.7" r="7.6"/><circle cx="1877.2" cy="126.1" r="7.6"/><circle cx="1889.3" cy="158.7" r="7.6"/><circle cx="1901.4" cy="153.7" r="7.6"/><circle cx="1913.5" cy="157.9" r="7.6"/><circle cx="1925.6" cy="178.8" r="7.6"/><circle cx="1937.7" cy="166.8" r="7.6"/><circle cx="1949.8" cy="119.7" r="7.6"/><circle cx="1961.9" cy="147.9" r="7.6"/><circle cx="1974.0" cy="162.9" r="7.6"/><circle cx="1986.0" cy="156.7" r="7.6"/><circle cx="1998.1" cy="137.0" r="7.6"/><circle cx="2010.2" cy="153.7" r="7.6"/><circle cx="2022.3" cy="188.9" r="7.6"/><circle cx="2034.4" cy="162.9" r="7.6"/><circle cx="2046.5" cy="156.2" r="7.6"/><circle cx="2058.6" cy="167.1" r="7.6"/><circle cx="2070.7" cy="152.0" r="7.6"/><circle cx="2082.8" cy="152.0" r="7.6"/><circle cx="2094.9" cy="141.1" r="7.6"/><circle cx="2107.0" cy="147.9" r="7.6"/><circle cx="2119.1" cy="66.4" r="7.6"/><circle cx="2131.2" cy="86.3" r="7.6"/><circle cx="2143.3" cy="92.0" r="7.6"/><circle cx="2155.4" cy="190.2" r="7.6"/><circle cx="2167.5" cy="251.4" r="7.6"/></g>
<polyline points="1360.8,1293.0 1378.1,1293.0 1395.3,1301.7 1412.6,1293.0 1429.8,1294.0 1447.1,1290.0 1464.3,1282.3 1481.6,1273.5 1498.8,1261.9 1516.1,1241.5 1533.3,1226.0 1550.6,1202.7 1567.8,1178.4 1585.1,1158.0 1602.3,1127.0 1619.6,1095.9 1636.8,1063.7 1654.1,1023.1 1671.3,984.8 1688.6,948.5 1705.8,905.0 1723.1,872.9 1740.3,841.8 1757.6,817.0 1774.8,801.4 1792.1,785.9 1809.3,777.6 1826.6,777.6 1843.8,777.6 1861.1,789.0 1878.3,793.1 1895.6,806.0 1912.8,809.3 1930.1,817.3 1947.3,825.9 1964.6,825.2 1981.8,837.2 1999.1,842.6 2016.3,845.2 2033.6,845.2 2050.8,845.2 2068.1,849.9 2085.3,849.9 2102.6,833.2 2119.8,825.9 2137.1,816.6 2154.3,812.6 2171.6,810.0" fill="none" stroke="#000" stroke-width="4.5" stroke-linejoin="round"/>
<g fill="#000"><rect x="1359.0" y="1286.2" width="8.6" height="13.6"/><rect x="1371.3" y="1286.2" width="13.6" height="13.6"/><rect x="1388.5" y="1294.9" width="13.6" height="13.6"/><rect x="1405.8" y="1286.2" width="13.6" height="13.6"/><rect x="1423.0" y="1287.2" width="13.6" height="13.6"/><rect x="1440.3" y="1283.2" width="13.6" height="13.6"/><rect x="1457.5" y="1275.5" width="13.6" height="13.6"/><rect x="1474.8" y="1266.7" width="13.6" height="13.6"/><rect x="1492.0" y="1255.1" width="13.6" height="13.6"/><rect x="1509.3" y="1234.7" width="13.6" height="13.6"/><rect x="1526.5" y="1219.2" width="13.6" height="13.6"/><rect x="1543.8" y="1195.9" width="13.6" height="13.6"/><rect x="1561.0" y="1171.6" width="13.6" height="13.6"/><rect x="1578.3" y="1151.2" width="13.6" height="13.6"/><rect x="1595.5" y="1120.2" width="13.6" height="13.6"/><rect x="1612.8" y="1089.1" width="13.6" height="13.6"/><rect x="1630.0" y="1056.9" width="13.6" height="13.6"/><rect x="1647.3" y="1016.3" width="13.6" height="13.6"/><rect x="1664.5" y="978.0" width="13.6" height="13.6"/><rect x="1681.8" y="941.7" width="13.6" height="13.6"/><rect x="1699.0" y="898.2" width="13.6" height="13.6"/><rect x="1716.3" y="866.1" width="13.6" height="13.6"/><rect x="1733.5" y="835.0" width="13.6" height="13.6"/><rect x="1750.8" y="810.2" width="13.6" height="13.6"/><rect x="1768.0" y="794.6" width="13.6" height="13.6"/><rect x="1785.3" y="779.1" width="13.6" height="13.6"/><rect x="1802.5" y="770.8" width="13.6" height="13.6"/><rect x="1819.8" y="770.8" width="13.6" height="13.6"/><rect x="1837.0" y="770.8" width="13.6" height="13.6"/><rect x="1854.3" y="782.2" width="13.6" height="13.6"/><rect x="1871.5" y="786.3" width="13.6" height="13.6"/><rect x="1888.8" y="799.2" width="13.6" height="13.6"/><rect x="1906.0" y="802.5" width="13.6" height="13.6"/><rect x="1923.3" y="810.5" width="13.6" height="13.6"/><rect x="1940.5" y="819.1" width="13.6" height="13.6"/><rect x="1957.8" y="818.4" width="13.6" height="13.6"/><rect x="1975.0" y="830.4" width="13.6" height="13.6"/><rect x="1992.3" y="835.8" width="13.6" height="13.6"/><rect x="2009.5" y="838.4" width="13.6" height="13.6"/><rect x="2026.8" y="838.4" width="13.6" height="13.6"/><rect x="2044.0" y="838.4" width="13.6" height="13.6"/><rect x="2061.3" y="843.1" width="13.6" height="13.6"/><rect x="2078.5" y="843.1" width="13.6" height="13.6"/><rect x="2095.8" y="826.4" width="13.6" height="13.6"/><rect x="2113.0" y="819.1" width="13.6" height="13.6"/><rect x="2130.3" y="809.8" width="13.6" height="13.6"/><rect x="2147.5" y="805.8" width="13.6" height="13.6"/><rect x="2164.8" y="803.2" width="13.6" height="13.6"/></g>
<polyline points="232.1,1352.9 235.1,1352.3 239.2,1351.4 244.1,1350.3 249.3,1349.2 254.5,1348.0 259.2,1346.8 263.4,1345.7 267.6,1344.6 271.7,1343.5 275.7,1342.3 279.7,1340.9 283.8,1339.4 287.9,1337.7 292.0,1335.8 296.1,1333.8 300.2,1331.7 304.3,1329.4 308.4,1327.1 312.5,1324.7 316.6,1322.1 320.7,1319.5 324.8,1316.7 328.9,1313.9 333.0,1311.1 337.1,1308.2 341.2,1305.3 345.3,1302.3 349.4,1299.2 353.5,1296.0 357.6,1292.7 361.8,1289.1 366.3,1285.1 370.7,1281.1 374.9,1277.1 378.8,1273.5 382.2,1270.5 384.7,1268.2 386.3,1266.5 387.6,1265.2 389.0,1264.0 391.2,1262.5 394.5,1260.7 399.4,1258.3 405.4,1255.6 412.1,1252.8 419.0,1249.9 425.6,1247.2 431.3,1244.7 436.1,1242.6 440.4,1240.7 444.4,1238.9 448.2,1237.2 451.9,1235.5 455.9,1233.6 460.0,1231.6 464.1,1229.6 468.2,1227.6 472.3,1225.5 476.4,1223.4 480.5,1221.3 484.6,1219.1 488.7,1216.9 492.8,1214.6 496.9,1212.3 501.0,1210.1 505.1,1207.8 509.1,1205.5 513.1,1203.3 517.1,1201.0 521.1,1198.7 525.3,1196.5 529.7,1194.3 534.4,1192.3 539.5,1190.4 544.8,1188.5 549.9,1186.6 554.8,1184.5 559.2,1182.0 563.0,1179.2 566.3,1176.2 569.4,1172.9 572.3,1169.5 575.4,1166.0 578.9,1162.3 582.7,1158.5 586.7,1154.6 590.9,1150.6 595.1,1146.4 599.3,1142.1 603.5,1137.7 607.6,1133.1 611.7,1128.3 615.8,1123.4 619.9,1118.4 624.0,1113.3 628.1,1108.2 632.2,1103.0 636.3,1097.8 640.4,1092.5 644.5,1087.1 648.6,1081.7 652.7,1076.2 656.9,1070.5 661.2,1064.7 665.5,1058.8 669.6,1053.0 673.6,1047.3 677.3,1041.8 680.6,1036.4 683.6,1030.9 686.5,1025.6 689.2,1020.6 691.8,1016.1 694.5,1012.3 697.2,1009.3 700.0,1007.1 702.7,1005.4 705.3,1003.9 707.8,1002.5 710.0,1001.0 711.8,999.5 713.3,998.1 714.6,996.8 716.0,995.5 717.7,993.9 720.0,992.0 723.0,989.7 726.5,987.0 730.4,984.2 734.4,981.2 738.4,978.2 742.3,975.3 746.0,972.4 749.8,969.3 753.5,966.3 757.2,963.2 761.0,960.3 764.7,957.4 768.3,954.7 771.9,952.1 775.4,949.6 779.1,947.1 782.9,944.5 787.0,941.8 791.6,938.9 796.7,935.9 801.9,932.9 807.1,929.8 811.9,926.8 816.0,923.9 819.3,921.1 822.0,918.4 824.3,915.8 826.5,913.3 828.9,910.7 831.7,908.3 835.0,905.9 838.6,903.5 842.4,901.2 846.3,899.0 850.2,896.9 854.0,894.9 857.7,893.1 861.5,891.4 865.2,889.8 868.9,888.4 872.7,887.1 876.4,885.9 879.9,884.9 883.0,884.0 886.2,883.2 889.6,882.6 893.7,882.0 898.7,881.5 905.0,881.1 912.4,880.7 920.4,880.5 928.5,880.3 936.3,880.3 943.4,880.4 949.6,880.6 955.4,881.0 960.9,881.4 966.1,882.0 971.4,882.8 976.9,883.7 982.6,884.8 988.5,886.2 994.3,887.7 1000.1,889.3 1005.5,890.9 1010.4,892.6 1014.8,894.3 1018.7,895.9 1022.2,897.6 1025.7,899.5 1029.1,901.5 1032.7,903.8 1036.4,906.5 1040.1,909.5 1043.8,912.7 1047.6,916.0 1051.3,919.0 1055.0,921.7 1058.7,924.0 1062.5,926.1 1066.2,928.0 1069.9,929.7 1073.7,931.4 1077.4,932.9 1081.1,934.3 1084.8,935.4 1088.6,936.4 1092.3,937.4 1096.0,938.4 1099.7,939.6 1103.3,940.9 1106.7,942.3 1110.1,943.8 1113.7,945.3 1117.6,946.9 1122.0,948.5 1126.9,950.3 1132.4,952.2 1138.1,954.2 1144.0,956.2 1149.9,958.1 1155.6,959.7 1161.0,961.1 1166.2,962.4 1171.3,963.5 1176.7,964.6 1182.5,965.5 1189.0,966.4 1196.9,967.2 1206.1,967.9 1215.7,968.5 1224.9,969.0 1232.7,969.4 1238.2,969.7" fill="none" stroke="#000" stroke-width="13" stroke-linejoin="round" stroke-linecap="square"/>
<polyline points="235.7,1007.7 237.1,1007.5 238.8,1007.3 240.9,1007.1 243.2,1006.9 245.7,1006.6 248.4,1006.3 251.1,1005.9 253.8,1005.5 256.5,1004.9 259.1,1004.3 261.6,1003.6 264.3,1002.8 266.9,1001.9 269.6,1001.0 272.3,1000.0 275.1,998.9 277.8,997.8 280.6,996.7 283.3,995.5 286.0,994.3 288.7,993.0 291.3,991.7 294.0,990.4 296.7,989.0 299.4,987.5 302.0,986.1 304.7,984.5 307.4,983.0 310.0,981.4 312.7,979.8 315.4,978.2 318.1,976.5 320.8,974.8 323.5,973.1 326.1,971.3 328.8,969.5 331.5,967.7 334.2,965.8 336.9,963.9 339.6,961.9 342.4,959.8 345.3,957.6 348.2,955.3 351.2,953.0 354.1,950.6 357.0,948.3 359.7,945.9 362.2,943.7 364.4,941.6 366.4,939.6 368.0,937.8 369.4,936.1 370.5,934.5 371.4,933.0 372.1,931.5 372.8,930.0 373.4,928.6 373.9,927.1 374.6,925.5 375.3,923.9 376.1,922.2 376.8,920.4 377.5,918.5 378.1,916.7 378.8,914.8 379.4,912.9 380.1,911.1 380.7,909.3 381.3,907.6 382.0,906.0 382.7,904.5 383.3,903.1 384.0,901.7 384.7,900.4 385.4,899.2 386.0,897.9 386.7,896.6 387.4,895.3 388.0,894.0 388.7,892.6 389.4,891.1 390.0,889.6 390.7,888.0 391.4,886.4 392.0,884.8 392.7,883.2 393.4,881.6 394.1,880.0 394.7,878.5 395.4,877.0 396.1,875.6 396.7,874.2 397.4,872.8 398.1,871.5 398.8,870.2 399.4,868.9 400.1,867.6 400.8,866.2 401.4,864.9 402.1,863.6 402.8,862.3 403.4,861.0 404.1,859.6 404.8,858.3 405.5,857.0 406.1,855.7 406.8,854.4 407.5,853.0 408.1,851.6 408.8,850.2 409.5,848.7 410.1,847.0 410.7,845.2 411.4,843.4 412.0,841.6 412.7,839.8 413.3,838.2 414.0,836.8 414.7,835.5 415.5,834.6 416.3,833.9 417.0,833.4 417.8,833.1 418.6,832.9 419.4,832.9 420.2,833.1 421.2,833.3 422.1,833.6 423.2,834.1 424.4,834.6 425.7,835.2 427.1,836.0 428.6,837.0 430.2,838.0 431.8,839.2 433.5,840.4 435.2,841.7 436.9,843.0 438.5,844.4 440.1,845.7 441.6,847.1 443.1,848.5 444.6,850.1 446.0,851.7 447.5,853.3 449.0,854.9 450.5,856.6 452.2,858.2 453.9,859.8 455.7,861.4 457.7,863.0 459.7,864.6 461.9,866.2 464.1,867.8 466.4,869.3 468.8,870.9 471.1,872.5 473.4,874.0 475.7,875.5 478.0,877.0 480.3,878.5 482.7,880.0 485.1,881.5 487.5,883.0 489.9,884.5 492.2,885.9 494.5,887.2 496.6,888.4 498.6,889.5 500.4,890.4 501.9,891.2 503.2,891.8 504.2,892.3 505.1,892.7 505.9,893.0 506.8,893.3 507.7,893.4 508.7,893.6 510.0,893.7 511.5,893.8 513.3,893.9 515.3,894.0 517.4,894.1 519.7,894.1 522.0,894.1 524.4,894.0 526.8,893.8 529.2,893.5 531.6,893.1 533.9,892.6 536.1,891.9 538.4,891.1 540.6,890.2 542.8,889.2 545.1,888.1 547.3,886.9 549.5,885.6 551.7,884.3 554.0,882.9 556.2,881.5 558.4,880.0 560.6,878.5 562.8,876.8 565.0,875.2 567.2,873.4 569.4,871.6 571.6,869.7 573.9,867.7 576.2,865.7 578.5,863.6 580.9,861.3 583.5,858.8 586.2,856.1 588.9,853.3 591.6,850.5 594.3,847.7 596.8,845.1 599.1,842.7 601.3,840.7 603.1,839.0 604.5,837.7 605.6,836.8 606.3,836.1 606.8,835.6 607.3,835.3 607.7,835.1 608.3,835.0 609.2,834.9 610.4,834.8 612.0,834.6 614.2,834.4 616.7,834.1 619.7,833.9 622.8,833.8 626.1,833.6 629.5,833.6 632.7,833.6 635.8,833.8 638.6,834.1 641.1,834.6 643.2,835.2 645.0,836.0 646.6,836.9 648.0,837.9 649.3,839.0 650.6,840.2 651.9,841.5 653.4,842.9 654.9,844.3 656.7,845.7 658.7,847.2 660.7,848.9 662.9,850.6 665.2,852.5 667.5,854.4 669.8,856.3 672.2,858.2 674.5,860.1 676.8,861.9 679.1,863.6 681.4,865.3 683.6,867.0 685.9,868.7 688.2,870.3 690.5,872.0 692.8,873.5 695.0,875.1 697.2,876.5 699.3,877.9 701.4,879.2 703.4,880.4 705.3,881.6 707.1,882.7 708.9,883.8 710.7,884.8 712.5,885.7 714.3,886.5 716.1,887.2 718.0,887.8 720.0,888.2 722.1,888.5 724.2,888.6 726.4,888.6 728.6,888.5 730.9,888.3 733.2,888.0 735.5,887.6 737.8,887.1 740.0,886.5 742.3,885.9 744.5,885.2 746.8,884.3 749.0,883.4 751.3,882.3 753.5,881.2 755.7,880.0 758.0,878.7 760.2,877.5 762.5,876.1 764.7,874.8 766.9,873.4 769.2,872.0 771.4,870.6 773.6,869.1 775.9,867.5 778.1,865.9 780.3,864.3 782.5,862.6 784.8,860.9 787.0,859.1 789.3,857.2 791.7,855.1 794.2,852.9 796.7,850.6 799.1,848.3 801.5,846.1 803.8,844.0 805.8,842.1 807.7,840.4 809.3,839.0 810.5,837.9 811.2,837.0 811.6,836.4 811.8,835.9 811.9,835.5 812.1,835.3 812.5,835.1 813.2,834.9 814.3,834.8 816.0,834.6 818.4,834.4 821.3,834.1 824.7,833.8 828.4,833.5 832.2,833.4 836.2,833.3 840.0,833.3 843.6,833.5 846.8,833.9 849.6,834.6 851.9,835.5 853.8,836.7 855.4,838.1 856.8,839.6 858.1,841.3 859.3,843.0 860.6,844.9 861.9,846.7 863.4,848.5 865.2,850.2 867.2,851.9 869.2,853.6 871.4,855.4 873.6,857.1 875.9,858.9 878.3,860.8 880.6,862.6 882.9,864.4 885.2,866.3 887.5,868.1 889.7,870.0 892.0,872.0 894.2,874.1 896.5,876.2 898.7,878.3 900.9,880.3 903.2,882.3 905.4,884.1 907.7,885.7 909.9,887.1 912.1,888.3 914.4,889.4 916.6,890.3 918.8,891.0 921.1,891.7 923.3,892.3 925.5,892.8 927.7,893.2 930.0,893.5 932.2,893.8 934.4,894.0 936.7,894.2 938.9,894.3 941.1,894.3 943.3,894.2 945.6,894.0 947.8,893.8 950.0,893.5 952.3,893.1 954.5,892.6 956.7,892.1 959.0,891.4 961.2,890.7 963.5,889.9 965.7,889.1 967.9,888.1 970.2,887.1 972.4,886.0 974.7,884.9 976.9,883.7 979.1,882.4 981.4,881.1 983.6,879.7 985.8,878.2 988.1,876.6 990.3,875.0 992.5,873.3 994.7,871.6 997.0,869.9 999.2,868.1 1001.5,866.2 1003.8,864.3 1006.2,862.2 1008.7,860.1 1011.0,857.9 1013.4,855.8 1015.6,853.7 1017.8,851.7 1019.7,849.8 1021.5,848.0 1023.1,846.3 1024.4,844.7 1025.6,843.1 1026.7,841.5 1027.7,840.0 1028.6,838.7 1029.5,837.4 1030.5,836.3 1031.5,835.4 1032.7,834.6 1034.0,834.0 1035.3,833.4 1036.7,833.0 1038.1,832.7 1039.5,832.5 1041.0,832.5 1042.3,832.7 1043.7,833.1 1044.9,833.7 1046.1,834.6 1047.2,835.8 1048.2,837.3 1049.1,839.2 1050.0,841.2 1050.8,843.4 1051.6,845.7 1052.5,848.0 1053.3,850.4 1054.1,852.6 1055.0,854.7 1055.9,856.7 1056.8,858.7 1057.7,860.7 1058.6,862.6 1059.5,864.6 1060.4,866.6 1061.3,868.6 1062.2,870.6 1063.1,872.7 1064.0,874.8 1064.9,877.0 1065.8,879.2 1066.7,881.4 1067.6,883.7 1068.5,886.0 1069.3,888.2 1070.2,890.5 1071.1,892.7 1072.0,894.9 1072.9,897.1 1073.7,899.1 1074.5,901.1 1075.3,902.9 1076.0,904.8 1076.8,906.6 1077.6,908.5 1078.5,910.4 1079.4,912.5 1080.5,914.7 1081.8,917.2 1083.2,919.9 1084.7,922.9 1086.4,926.1 1088.1,929.5 1089.9,932.9 1091.8,936.2 1093.7,939.6 1095.7,942.8 1097.7,945.8 1099.7,948.5 1101.8,951.0 1103.9,953.3 1106.1,955.6 1108.3,957.7 1110.6,959.7 1112.9,961.6 1115.2,963.4 1117.5,965.2 1119.7,966.9 1122.0,968.6 1124.2,970.2 1126.5,971.7 1128.7,973.2 1131.0,974.5 1133.2,975.9 1135.4,977.1 1137.7,978.4 1139.9,979.6 1142.2,980.8 1144.4,982.0 1146.6,983.2 1148.9,984.4 1151.1,985.6 1153.3,986.7 1155.6,987.9 1157.8,989.0 1160.0,990.1 1162.2,991.1 1164.5,992.2 1166.7,993.2 1168.9,994.2 1171.0,995.2 1173.0,996.1 1175.1,997.1 1177.1,998.0 1179.3,998.9 1181.5,999.7 1183.8,1000.6 1186.3,1001.4 1189.0,1002.1 1192.1,1002.8 1195.5,1003.5 1199.3,1004.2 1203.2,1004.8 1207.2,1005.5 1211.0,1006.0 1214.6,1006.5 1217.8,1007.0 1220.5,1007.4 1222.6,1007.7" fill="none" stroke="#0000ff" stroke-width="2" />
<g fill="#fff" stroke="#7474ff" stroke-width="1.3"><circle cx="235.7" cy="1007.7" r="5.7"/><circle cx="239.9" cy="1007.2" r="5.7"/><circle cx="244.1" cy="1006.8" r="5.7"/><circle cx="248.3" cy="1006.3" r="5.7"/><circle cx="252.5" cy="1005.7" r="5.7"/><circle cx="256.7" cy="1004.9" r="5.7"/><circle cx="260.9" cy="1003.8" r="5.7"/><circle cx="265.1" cy="1002.5" r="5.7"/><circle cx="269.3" cy="1001.1" r="5.7"/><circle cx="273.5" cy="999.5" r="5.7"/><circle cx="277.7" cy="997.9" r="5.7"/><circle cx="281.9" cy="996.1" r="5.7"/><circle cx="286.1" cy="994.3" r="5.7"/><circle cx="290.3" cy="992.3" r="5.7"/><circle cx="294.5" cy="990.1" r="5.7"/><circle cx="298.7" cy="987.9" r="5.7"/><circle cx="302.9" cy="985.6" r="5.7"/><circle cx="307.1" cy="983.1" r="5.7"/><circle cx="311.3" cy="980.6" r="5.7"/><circle cx="315.5" cy="978.1" r="5.7"/><circle cx="319.7" cy="975.5" r="5.7"/><circle cx="323.9" cy="972.8" r="5.7"/><circle cx="328.1" cy="970.0" r="5.7"/><circle cx="332.3" cy="967.2" r="5.7"/><circle cx="336.5" cy="964.2" r="5.7"/><circle cx="340.7" cy="961.1" r="5.7"/><circle cx="344.9" cy="957.9" r="5.7"/><circle cx="349.1" cy="954.6" r="5.7"/><circle cx="353.3" cy="951.3" r="5.7"/><circle cx="357.5" cy="947.8" r="5.7"/><circle cx="361.7" cy="944.1" r="5.7"/><circle cx="365.9" cy="940.1" r="5.7"/><circle cx="370.1" cy="935.0" r="5.7"/><circle cx="374.3" cy="926.2" r="5.7"/><circle cx="378.5" cy="915.6" r="5.7"/><circle cx="382.7" cy="904.4" r="5.7"/><circle cx="386.9" cy="896.2" r="5.7"/><circle cx="391.1" cy="887.1" r="5.7"/><circle cx="395.3" cy="877.2" r="5.7"/><circle cx="399.5" cy="868.7" r="5.7"/><circle cx="403.7" cy="860.4" r="5.7"/><circle cx="407.9" cy="852.1" r="5.7"/><circle cx="412.1" cy="841.3" r="5.7"/><circle cx="416.3" cy="833.9" r="5.7"/><circle cx="420.5" cy="833.1" r="5.7"/><circle cx="424.7" cy="834.7" r="5.7"/><circle cx="428.9" cy="837.2" r="5.7"/><circle cx="433.1" cy="840.1" r="5.7"/><circle cx="437.3" cy="843.4" r="5.7"/><circle cx="441.5" cy="847.0" r="5.7"/><circle cx="445.7" cy="851.3" r="5.7"/><circle cx="449.9" cy="855.9" r="5.7"/><circle cx="454.1" cy="860.0" r="5.7"/><circle cx="458.3" cy="863.5" r="5.7"/><circle cx="462.5" cy="866.6" r="5.7"/><circle cx="466.7" cy="869.5" r="5.7"/><circle cx="470.9" cy="872.4" r="5.7"/><circle cx="475.1" cy="875.1" r="5.7"/><circle cx="479.3" cy="877.8" r="5.7"/><circle cx="483.5" cy="880.5" r="5.7"/><circle cx="487.7" cy="883.1" r="5.7"/><circle cx="491.9" cy="885.7" r="5.7"/><circle cx="496.1" cy="888.1" r="5.7"/><circle cx="500.3" cy="890.3" r="5.7"/><circle cx="504.5" cy="892.4" r="5.7"/><circle cx="508.7" cy="893.6" r="5.7"/><circle cx="512.9" cy="893.9" r="5.7"/><circle cx="517.1" cy="894.1" r="5.7"/><circle cx="521.3" cy="894.1" r="5.7"/><circle cx="525.5" cy="893.9" r="5.7"/><circle cx="529.7" cy="893.5" r="5.7"/><circle cx="533.9" cy="892.6" r="5.7"/><circle cx="538.1" cy="891.2" r="5.7"/><circle cx="542.3" cy="889.4" r="5.7"/><circle cx="546.5" cy="887.3" r="5.7"/><circle cx="550.7" cy="884.9" r="5.7"/><circle cx="554.9" cy="882.3" r="5.7"/><circle cx="559.1" cy="879.5" r="5.7"/><circle cx="563.3" cy="876.5" r="5.7"/><circle cx="567.5" cy="873.2" r="5.7"/><circle cx="571.7" cy="869.6" r="5.7"/><circle cx="575.9" cy="865.9" r="5.7"/><circle cx="580.1" cy="862.1" r="5.7"/><circle cx="584.3" cy="858.0" r="5.7"/><circle cx="588.5" cy="853.7" r="5.7"/><circle cx="592.7" cy="849.4" r="5.7"/><circle cx="596.9" cy="845.0" r="5.7"/><circle cx="601.1" cy="840.8" r="5.7"/><circle cx="605.3" cy="837.0" r="5.7"/><circle cx="609.5" cy="834.8" r="5.7"/><circle cx="613.7" cy="834.4" r="5.7"/><circle cx="617.9" cy="834.1" r="5.7"/><circle cx="622.1" cy="833.8" r="5.7"/><circle cx="626.3" cy="833.6" r="5.7"/><circle cx="630.5" cy="833.6" r="5.7"/><circle cx="634.7" cy="833.8" r="5.7"/><circle cx="638.9" cy="834.2" r="5.7"/><circle cx="643.1" cy="835.2" r="5.7"/><circle cx="647.3" cy="837.4" r="5.7"/><circle cx="651.5" cy="841.1" r="5.7"/><circle cx="655.7" cy="844.9" r="5.7"/><circle cx="659.9" cy="848.2" r="5.7"/><circle cx="664.1" cy="851.6" r="5.7"/><circle cx="668.3" cy="855.0" r="5.7"/><circle cx="672.5" cy="858.4" r="5.7"/><circle cx="676.7" cy="861.8" r="5.7"/><circle cx="680.9" cy="864.9" r="5.7"/><circle cx="685.1" cy="868.1" r="5.7"/><circle cx="689.3" cy="871.1" r="5.7"/><circle cx="693.5" cy="874.1" r="5.7"/><circle cx="697.7" cy="876.9" r="5.7"/><circle cx="701.9" cy="879.5" r="5.7"/><circle cx="706.1" cy="882.1" r="5.7"/><circle cx="710.3" cy="884.6" r="5.7"/><circle cx="714.5" cy="886.6" r="5.7"/><circle cx="718.7" cy="887.9" r="5.7"/><circle cx="722.9" cy="888.5" r="5.7"/><circle cx="727.1" cy="888.6" r="5.7"/><circle cx="731.3" cy="888.3" r="5.7"/><circle cx="735.5" cy="887.6" r="5.7"/><circle cx="739.7" cy="886.6" r="5.7"/><circle cx="743.9" cy="885.4" r="5.7"/><circle cx="748.1" cy="883.8" r="5.7"/><circle cx="752.3" cy="881.8" r="5.7"/><circle cx="756.5" cy="879.6" r="5.7"/><circle cx="760.7" cy="877.2" r="5.7"/><circle cx="764.9" cy="874.7" r="5.7"/><circle cx="769.1" cy="872.1" r="5.7"/><circle cx="773.3" cy="869.3" r="5.7"/><circle cx="777.5" cy="866.3" r="5.7"/><circle cx="781.7" cy="863.2" r="5.7"/><circle cx="785.9" cy="860.0" r="5.7"/><circle cx="790.1" cy="856.5" r="5.7"/><circle cx="794.3" cy="852.8" r="5.7"/><circle cx="798.5" cy="848.9" r="5.7"/><circle cx="802.7" cy="845.0" r="5.7"/><circle cx="806.9" cy="841.1" r="5.7"/><circle cx="811.1" cy="837.2" r="5.7"/><circle cx="815.3" cy="834.7" r="5.7"/><circle cx="819.5" cy="834.2" r="5.7"/><circle cx="823.7" cy="833.9" r="5.7"/><circle cx="827.9" cy="833.6" r="5.7"/><circle cx="832.1" cy="833.4" r="5.7"/><circle cx="836.3" cy="833.3" r="5.7"/><circle cx="840.5" cy="833.3" r="5.7"/><circle cx="844.7" cy="833.7" r="5.7"/><circle cx="848.9" cy="834.4" r="5.7"/><circle cx="853.1" cy="836.3" r="5.7"/><circle cx="857.3" cy="840.2" r="5.7"/><circle cx="861.5" cy="846.1" r="5.7"/><circle cx="865.7" cy="850.6" r="5.7"/><circle cx="869.9" cy="854.2" r="5.7"/><circle cx="874.1" cy="857.5" r="5.7"/><circle cx="878.3" cy="860.8" r="5.7"/><circle cx="882.5" cy="864.1" r="5.7"/><circle cx="886.7" cy="867.4" r="5.7"/><circle cx="890.9" cy="871.1" r="5.7"/><circle cx="895.1" cy="874.9" r="5.7"/><circle cx="899.3" cy="878.8" r="5.7"/><circle cx="903.5" cy="882.5" r="5.7"/><circle cx="907.7" cy="885.7" r="5.7"/><circle cx="911.9" cy="888.2" r="5.7"/><circle cx="916.1" cy="890.1" r="5.7"/><circle cx="920.3" cy="891.5" r="5.7"/><circle cx="924.5" cy="892.5" r="5.7"/><circle cx="928.7" cy="893.3" r="5.7"/><circle cx="932.9" cy="893.9" r="5.7"/><circle cx="937.1" cy="894.2" r="5.7"/><circle cx="941.3" cy="894.3" r="5.7"/><circle cx="945.5" cy="894.0" r="5.7"/><circle cx="949.7" cy="893.5" r="5.7"/><circle cx="953.9" cy="892.7" r="5.7"/><circle cx="958.1" cy="891.7" r="5.7"/><circle cx="962.3" cy="890.3" r="5.7"/><circle cx="966.5" cy="888.7" r="5.7"/><circle cx="970.7" cy="886.9" r="5.7"/><circle cx="974.9" cy="884.8" r="5.7"/><circle cx="979.1" cy="882.5" r="5.7"/><circle cx="983.3" cy="879.8" r="5.7"/><circle cx="987.5" cy="877.0" r="5.7"/><circle cx="991.7" cy="873.9" r="5.7"/><circle cx="995.9" cy="870.7" r="5.7"/><circle cx="1000.1" cy="867.4" r="5.7"/><circle cx="1004.3" cy="863.9" r="5.7"/><circle cx="1008.5" cy="860.2" r="5.7"/><circle cx="1012.7" cy="856.4" r="5.7"/><circle cx="1016.9" cy="852.5" r="5.7"/><circle cx="1021.1" cy="848.4" r="5.7"/><circle cx="1025.3" cy="843.5" r="5.7"/><circle cx="1029.5" cy="837.5" r="5.7"/><circle cx="1033.7" cy="834.1" r="5.7"/><circle cx="1037.9" cy="832.7" r="5.7"/><circle cx="1042.1" cy="832.7" r="5.7"/><circle cx="1046.3" cy="834.8" r="5.7"/><circle cx="1050.5" cy="842.5" r="5.7"/><circle cx="1054.7" cy="854.0" r="5.7"/><circle cx="1058.9" cy="863.3" r="5.7"/><circle cx="1063.1" cy="872.7" r="5.7"/><circle cx="1067.3" cy="883.0" r="5.7"/><circle cx="1071.5" cy="893.7" r="5.7"/><circle cx="1075.7" cy="904.0" r="5.7"/><circle cx="1079.9" cy="913.4" r="5.7"/><circle cx="1084.1" cy="921.7" r="5.7"/><circle cx="1088.3" cy="929.8" r="5.7"/><circle cx="1092.5" cy="937.5" r="5.7"/><circle cx="1096.7" cy="944.3" r="5.7"/><circle cx="1100.9" cy="950.0" r="5.7"/><circle cx="1105.1" cy="954.6" r="5.7"/><circle cx="1109.3" cy="958.6" r="5.7"/><circle cx="1113.5" cy="962.1" r="5.7"/><circle cx="1117.7" cy="965.4" r="5.7"/><circle cx="1121.9" cy="968.5" r="5.7"/><circle cx="1126.1" cy="971.5" r="5.7"/><circle cx="1130.3" cy="974.1" r="5.7"/><circle cx="1134.5" cy="976.6" r="5.7"/><circle cx="1138.7" cy="978.9" r="5.7"/><circle cx="1142.9" cy="981.2" r="5.7"/><circle cx="1147.1" cy="983.5" r="5.7"/><circle cx="1151.3" cy="985.7" r="5.7"/><circle cx="1155.5" cy="987.9" r="5.7"/><circle cx="1159.7" cy="989.9" r="5.7"/><circle cx="1163.9" cy="991.9" r="5.7"/><circle cx="1168.1" cy="993.8" r="5.7"/><circle cx="1172.3" cy="995.8" r="5.7"/><circle cx="1176.5" cy="997.7" r="5.7"/><circle cx="1180.7" cy="999.4" r="5.7"/><circle cx="1184.9" cy="1000.9" r="5.7"/><circle cx="1189.1" cy="1002.1" r="5.7"/><circle cx="1193.3" cy="1003.1" r="5.7"/><circle cx="1197.5" cy="1003.9" r="5.7"/><circle cx="1201.7" cy="1004.6" r="5.7"/><circle cx="1205.9" cy="1005.3" r="5.7"/><circle cx="1210.1" cy="1005.9" r="5.7"/><circle cx="1214.3" cy="1006.5" r="5.7"/><circle cx="1218.5" cy="1007.1" r="5.7"/></g>
</svg>
</body></html>
